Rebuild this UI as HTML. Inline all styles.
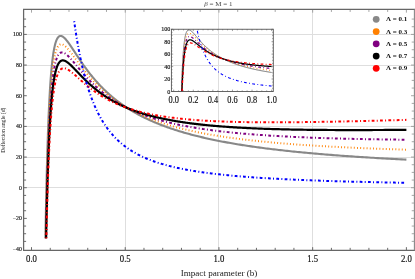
<!DOCTYPE html><html><head><meta charset="utf-8"><title>plot</title><style>html,body{margin:0;padding:0;background:#fff}svg{display:block}text{font-family:"Liberation Serif",serif}.tx{filter:grayscale(1)}</style></head><body>
<svg width="415" height="279" viewBox="0 0 415 279">
<rect width="415" height="279" fill="#fff"/>
<g stroke="#dedede" stroke-width="1" fill="none"><line x1="125.50" y1="9.45" x2="125.50" y2="250.35"/><line x1="218.50" y1="9.45" x2="218.50" y2="250.35"/><line x1="312.50" y1="9.45" x2="312.50" y2="250.35"/><line x1="23.60" y1="187.50" x2="414.20" y2="187.50"/><line x1="23.60" y1="157.50" x2="414.20" y2="157.50"/><line x1="23.60" y1="126.50" x2="414.20" y2="126.50"/><line x1="23.60" y1="65.50" x2="414.20" y2="65.50"/><line x1="23.60" y1="34.50" x2="414.20" y2="34.50"/></g>
<clipPath id="c1"><rect x="23.60" y="9.45" width="390.60" height="240.90"/></clipPath>
<g clip-path="url(#c1)" fill="none" stroke-linejoin="round">
<path d="M45.42,238.31 L45.51,232.93 L45.60,227.66 L45.70,222.51 L45.79,217.48 L45.89,212.55 L45.98,207.73 L46.08,203.02 L46.17,198.41 L46.27,193.90 L46.37,189.49 L46.47,185.18 L46.57,180.96 L46.67,176.84 L46.77,172.81 L46.87,168.87 L46.97,165.03 L47.07,161.26 L47.18,157.59 L47.28,153.99 L47.38,150.48 L47.49,147.05 L47.60,143.70 L47.70,140.43 L47.81,137.23 L47.92,134.10 L48.03,131.05 L48.14,128.07 L48.25,125.17 L48.36,122.33 L48.47,119.56 L48.58,116.85 L48.69,114.21 L48.81,111.63 L48.92,109.12 L49.04,106.67 L49.15,104.28 L49.27,101.95 L49.39,99.67 L49.51,97.45 L49.63,95.29 L49.75,93.19 L49.87,91.13 L49.99,89.13 L50.11,87.18 L50.23,85.29 L50.36,83.44 L50.48,81.64 L50.61,79.89 L50.73,78.19 L50.86,76.53 L50.99,74.92 L51.12,73.35 L51.25,71.83 L51.38,70.34 L51.51,68.91 L51.64,67.51 L51.78,66.15 L51.91,64.83 L52.05,63.55 L52.18,62.31 L52.32,61.11 L52.46,59.94 L52.60,58.81 L52.74,57.72 L52.88,56.65 L53.02,55.63 L53.16,54.63 L53.30,53.67 L53.45,52.75 L53.59,51.85 L53.74,50.98 L53.89,50.15 L54.04,49.34 L54.19,48.56 L54.34,47.82 L54.49,47.09 L54.64,46.40 L54.79,45.74 L54.95,45.10 L55.10,44.48 L55.26,43.90 L55.42,43.33 L55.57,42.79 L55.73,42.28 L55.89,41.79 L56.06,41.32 L56.22,40.88 L56.38,40.45 L56.55,40.05 L56.71,39.67 L56.88,39.31 L57.05,38.98 L57.22,38.66 L57.39,38.36 L57.56,38.08 L57.73,37.82 L57.90,37.58 L58.08,37.35 L58.25,37.15 L58.43,36.96 L58.61,36.79 L58.79,36.63 L58.97,36.50 L59.15,36.37 L59.34,36.27 L59.52,36.18 L59.71,36.10 L59.89,36.04 L60.08,36.00 L60.27,35.96 L60.46,35.95 L60.65,35.94 L60.84,35.95 L61.04,35.97 L61.23,36.01 L61.43,36.06 L61.63,36.12 L61.83,36.19 L62.03,36.27 L62.23,36.37 L62.44,36.47 L62.64,36.59 L62.85,36.72 L63.05,36.86 L63.26,37.01 L63.47,37.17 L63.69,37.33 L63.90,37.51 L64.11,37.70 L64.33,37.90 L64.55,38.11 L64.77,38.32 L64.99,38.54 L65.21,38.78 L65.43,39.02 L65.66,39.27 L65.88,39.52 L66.11,39.79 L66.34,40.06 L66.57,40.34 L66.80,40.62 L67.03,40.92 L67.27,41.22 L67.51,41.52 L67.75,41.83 L67.99,42.15 L68.23,42.48 L68.47,42.81 L68.71,43.15 L68.96,43.49 L69.21,43.84 L69.46,44.19 L69.71,44.55 L69.96,44.91 L70.22,45.28 L70.47,45.66 L70.73,46.04 L70.99,46.42 L71.25,46.81 L71.52,47.20 L71.78,47.60 L72.05,48.00 L72.32,48.40 L72.59,48.81 L72.86,49.22 L73.13,49.64 L73.41,50.06 L73.69,50.48 L73.97,50.90 L74.25,51.33 L74.53,51.76 L74.82,52.20 L75.10,52.64 L75.39,53.08 L75.68,53.52 L75.97,53.97 L76.27,54.42 L76.56,54.87 L76.86,55.32 L77.16,55.78 L77.47,56.23 L77.77,56.69 L78.08,57.16 L78.39,57.62 L78.70,58.09 L79.01,58.55 L79.32,59.02 L79.64,59.49 L79.96,59.97 L80.28,60.44 L80.60,60.91 L80.93,61.39 L81.25,61.87 L81.58,62.35 L81.92,62.83 L82.25,63.31 L82.59,63.79 L82.92,64.27 L83.26,64.76 L83.61,65.24 L83.95,65.73 L84.30,66.21 L84.65,66.70 L85.00,67.19 L85.36,67.67 L85.71,68.16 L86.07,68.65 L86.43,69.14 L86.80,69.63 L87.16,70.12 L87.53,70.61 L87.90,71.10 L88.28,71.59 L88.65,72.08 L89.03,72.57 L89.41,73.06 L89.79,73.55 L90.18,74.04 L90.57,74.53 L90.96,75.01 L91.35,75.50 L91.75,75.99 L92.15,76.48 L92.55,76.97 L92.95,77.46 L93.36,77.94 L93.77,78.43 L94.18,78.92 L94.60,79.40 L95.02,79.89 L95.44,80.37 L95.86,80.86 L96.29,81.34 L96.72,81.82 L97.15,82.31 L97.58,82.79 L98.02,83.27 L98.46,83.75 L98.90,84.23 L99.35,84.70 L99.80,85.18 L100.25,85.66 L100.71,86.13 L101.16,86.61 L101.63,87.08 L102.09,87.55 L102.56,88.02 L103.03,88.49 L103.50,88.96 L103.98,89.43 L104.46,89.90 L104.94,90.36 L105.43,90.83 L105.92,91.29 L106.41,91.75 L106.91,92.22 L107.41,92.68 L107.91,93.13 L108.41,93.59 L108.92,94.05 L109.44,94.50 L109.95,94.96 L110.47,95.41 L110.99,95.86 L111.52,96.31 L112.05,96.76 L112.58,97.20 L113.12,97.65 L113.66,98.09 L114.21,98.54 L114.75,98.98 L115.30,99.42 L115.86,99.85 L116.42,100.29 L116.98,100.73 L117.55,101.16 L118.12,101.59 L118.69,102.02 L119.27,102.45 L119.85,102.88 L120.43,103.31 L121.02,103.73 L121.62,104.15 L122.21,104.58 L122.81,105.00 L123.42,105.41 L124.03,105.83 L124.64,106.25 L125.26,106.66 L125.88,107.07 L126.50,107.48 L127.13,107.89 L127.76,108.30 L128.40,108.70 L129.04,109.11 L129.69,109.51 L130.34,109.91 L130.99,110.31 L131.65,110.71 L132.32,111.10 L132.98,111.50 L133.65,111.89 L134.33,112.28 L135.01,112.67 L135.70,113.06 L136.39,113.44 L137.08,113.83 L137.78,114.21 L138.48,114.59 L139.19,114.97 L139.91,115.35 L140.62,115.72 L141.35,116.10 L142.07,116.47 L142.81,116.84 L143.54,117.21 L144.29,117.58 L145.03,117.94 L145.78,118.30 L146.54,118.67 L147.30,119.03 L148.07,119.39 L148.84,119.74 L149.62,120.10 L150.40,120.45 L151.19,120.81 L151.98,121.16 L152.78,121.50 L153.58,121.85 L154.39,122.20 L155.20,122.54 L156.02,122.88 L156.85,123.22 L157.68,123.56 L158.51,123.90 L159.35,124.23 L160.20,124.57 L161.05,124.90 L161.91,125.23 L162.77,125.56 L163.64,125.89 L164.52,126.21 L165.40,126.54 L166.29,126.86 L167.18,127.18 L168.08,127.50 L168.98,127.81 L169.89,128.13 L170.81,128.44 L171.73,128.76 L172.66,129.07 L173.59,129.37 L174.53,129.68 L175.48,129.99 L176.43,130.29 L177.39,130.59 L178.36,130.90 L179.33,131.19 L180.31,131.49 L181.30,131.79 L182.29,132.08 L183.29,132.38 L184.29,132.67 L185.30,132.96 L186.32,133.24 L187.35,133.53 L188.38,133.82 L189.42,134.10 L190.46,134.38 L191.52,134.66 L192.58,134.94 L193.64,135.22 L194.72,135.49 L195.80,135.77 L196.89,136.04 L197.98,136.31 L199.08,136.58 L200.19,136.85 L201.31,137.11 L202.43,137.38 L203.57,137.64 L204.70,137.90 L205.85,138.17 L207.01,138.42 L208.17,138.68 L209.34,138.94 L210.52,139.19 L211.70,139.44 L212.89,139.70 L214.10,139.95 L215.30,140.20 L216.52,140.44 L217.75,140.69 L218.98,140.93 L220.22,141.18 L221.47,141.42 L222.73,141.66 L224.00,141.89 L225.27,142.13 L226.55,142.37 L227.84,142.60 L229.15,142.84 L230.45,143.07 L231.77,143.30 L233.10,143.53 L234.43,143.75 L235.78,143.98 L237.13,144.20 L238.49,144.43 L239.86,144.65 L241.24,144.87 L242.63,145.09 L244.03,145.31 L245.43,145.52 L246.85,145.74 L248.28,145.95 L249.71,146.16 L251.16,146.38 L252.61,146.59 L254.08,146.79 L255.55,147.00 L257.03,147.21 L258.53,147.41 L260.03,147.62 L261.54,147.82 L263.07,148.02 L264.60,148.22 L266.14,148.42 L267.70,148.61 L269.26,148.81 L270.84,149.00 L272.42,149.20 L274.02,149.39 L275.62,149.58 L277.24,149.77 L278.87,149.96 L280.50,150.15 L282.15,150.33 L283.81,150.52 L285.48,150.70 L287.16,150.88 L288.86,151.07 L290.56,151.25 L292.28,151.42 L294.00,151.60 L295.74,151.78 L297.49,151.95 L299.25,152.13 L301.03,152.30 L302.81,152.47 L304.61,152.64 L306.42,152.81 L308.24,152.98 L310.07,153.15 L311.91,153.32 L313.77,153.48 L315.64,153.65 L317.52,153.81 L319.41,153.97 L321.32,154.13 L323.24,154.29 L325.17,154.45 L327.12,154.61 L329.07,154.77 L331.04,154.92 L333.03,155.08 L335.02,155.23 L337.03,155.38 L339.06,155.53 L341.09,155.69 L343.14,155.83 L345.21,155.98 L347.29,156.13 L349.38,156.28 L351.48,156.42 L353.60,156.57 L355.73,156.71 L357.88,156.85 L360.04,156.99 L362.22,157.13 L364.41,157.27 L366.61,157.41 L368.83,157.55 L371.06,157.69 L373.31,157.82 L375.58,157.96 L377.85,158.09 L380.15,158.22 L382.46,158.35 L384.78,158.49 L387.12,158.62 L389.47,158.74 L391.84,158.87 L394.23,159.00 L396.63,159.13 L399.05,159.25 L401.48,159.38 L403.93,159.50 L406.40,159.62" stroke="#888888" stroke-width="2.10"/>
<path d="M45.64,238.32 L45.73,233.20 L45.82,228.20 L45.92,223.30 L46.01,218.51 L46.11,213.83 L46.20,209.24 L46.30,204.76 L46.40,200.37 L46.50,196.08 L46.60,191.89 L46.70,187.78 L46.80,183.77 L46.90,179.85 L47.00,176.01 L47.10,172.26 L47.20,168.59 L47.31,165.01 L47.41,161.50 L47.52,158.08 L47.62,154.73 L47.73,151.46 L47.83,148.26 L47.94,145.14 L48.05,142.09 L48.16,139.11 L48.27,136.19 L48.38,133.35 L48.49,130.57 L48.60,127.86 L48.72,125.21 L48.83,122.63 L48.94,120.10 L49.06,117.64 L49.17,115.24 L49.29,112.89 L49.41,110.60 L49.53,108.37 L49.64,106.20 L49.76,104.07 L49.88,102.00 L50.01,99.98 L50.13,98.02 L50.25,96.10 L50.37,94.23 L50.50,92.41 L50.62,90.64 L50.75,88.91 L50.88,87.23 L51.00,85.60 L51.13,84.00 L51.26,82.45 L51.39,80.95 L51.52,79.48 L51.66,78.06 L51.79,76.67 L51.92,75.32 L52.06,74.02 L52.19,72.75 L52.33,71.51 L52.47,70.31 L52.60,69.15 L52.74,68.03 L52.88,66.93 L53.02,65.87 L53.17,64.85 L53.31,63.85 L53.45,62.89 L53.60,61.96 L53.74,61.06 L53.89,60.19 L54.04,59.35 L54.19,58.53 L54.33,57.75 L54.49,56.99 L54.64,56.26 L54.79,55.56 L54.94,54.88 L55.10,54.23 L55.25,53.60 L55.41,53.00 L55.57,52.42 L55.73,51.87 L55.89,51.34 L56.05,50.83 L56.21,50.34 L56.37,49.88 L56.53,49.44 L56.70,49.02 L56.87,48.62 L57.03,48.24 L57.20,47.88 L57.37,47.54 L57.54,47.22 L57.71,46.91 L57.89,46.63 L58.06,46.36 L58.23,46.11 L58.41,45.88 L58.59,45.67 L58.77,45.47 L58.95,45.29 L59.13,45.12 L59.31,44.97 L59.49,44.83 L59.68,44.71 L59.86,44.61 L60.05,44.52 L60.24,44.44 L60.43,44.38 L60.62,44.33 L60.81,44.29 L61.00,44.27 L61.20,44.26 L61.39,44.26 L61.59,44.27 L61.79,44.30 L61.99,44.33 L62.19,44.38 L62.39,44.44 L62.59,44.51 L62.80,44.59 L63.01,44.68 L63.21,44.79 L63.42,44.90 L63.63,45.02 L63.84,45.15 L64.06,45.29 L64.27,45.44 L64.49,45.60 L64.71,45.77 L64.92,45.94 L65.14,46.13 L65.37,46.32 L65.59,46.52 L65.81,46.73 L66.04,46.95 L66.27,47.17 L66.50,47.40 L66.73,47.64 L66.96,47.88 L67.19,48.13 L67.43,48.39 L67.67,48.65 L67.90,48.92 L68.14,49.20 L68.39,49.48 L68.63,49.77 L68.87,50.07 L69.12,50.37 L69.37,50.67 L69.62,50.98 L69.87,51.30 L70.12,51.62 L70.38,51.94 L70.63,52.27 L70.89,52.60 L71.15,52.94 L71.41,53.29 L71.67,53.63 L71.94,53.98 L72.21,54.34 L72.47,54.70 L72.74,55.06 L73.02,55.43 L73.29,55.80 L73.56,56.17 L73.84,56.55 L74.12,56.93 L74.40,57.31 L74.68,57.69 L74.97,58.08 L75.26,58.47 L75.54,58.87 L75.83,59.26 L76.13,59.66 L76.42,60.07 L76.72,60.47 L77.01,60.88 L77.31,61.28 L77.62,61.69 L77.92,62.11 L78.23,62.52 L78.53,62.94 L78.84,63.36 L79.16,63.77 L79.47,64.20 L79.79,64.62 L80.10,65.04 L80.42,65.47 L80.75,65.90 L81.07,66.32 L81.40,66.75 L81.73,67.18 L82.06,67.61 L82.39,68.05 L82.73,68.48 L83.06,68.91 L83.40,69.35 L83.75,69.79 L84.09,70.22 L84.44,70.66 L84.79,71.10 L85.14,71.54 L85.49,71.97 L85.85,72.41 L86.20,72.85 L86.57,73.29 L86.93,73.73 L87.29,74.17 L87.66,74.61 L88.03,75.05 L88.40,75.49 L88.78,75.94 L89.16,76.38 L89.54,76.82 L89.92,77.26 L90.30,77.70 L90.69,78.14 L91.08,78.58 L91.47,79.02 L91.87,79.46 L92.27,79.90 L92.67,80.33 L93.07,80.77 L93.48,81.21 L93.89,81.65 L94.30,82.08 L94.71,82.52 L95.13,82.96 L95.55,83.39 L95.97,83.83 L96.39,84.26 L96.82,84.69 L97.25,85.13 L97.69,85.56 L98.12,85.99 L98.56,86.42 L99.00,86.85 L99.45,87.28 L99.89,87.70 L100.35,88.13 L100.80,88.56 L101.26,88.98 L101.72,89.40 L102.18,89.83 L102.64,90.25 L103.11,90.67 L103.59,91.09 L104.06,91.51 L104.54,91.92 L105.02,92.34 L105.50,92.75 L105.99,93.17 L106.48,93.58 L106.98,93.99 L107.47,94.40 L107.98,94.81 L108.48,95.22 L108.99,95.62 L109.50,96.03 L110.01,96.43 L110.53,96.84 L111.05,97.24 L111.57,97.64 L112.10,98.04 L112.63,98.43 L113.17,98.83 L113.71,99.22 L114.25,99.62 L114.79,100.01 L115.34,100.40 L115.89,100.78 L116.45,101.17 L117.01,101.56 L117.57,101.94 L118.14,102.32 L118.71,102.71 L119.29,103.08 L119.87,103.46 L120.45,103.84 L121.03,104.21 L121.62,104.59 L122.22,104.96 L122.82,105.33 L123.42,105.70 L124.02,106.07 L124.63,106.43 L125.25,106.80 L125.87,107.16 L126.49,107.52 L127.11,107.88 L127.74,108.24 L128.38,108.59 L129.02,108.95 L129.66,109.30 L130.31,109.65 L130.96,110.00 L131.61,110.35 L132.27,110.70 L132.94,111.04 L133.61,111.38 L134.28,111.72 L134.96,112.06 L135.64,112.40 L136.32,112.74 L137.01,113.07 L137.71,113.41 L138.41,113.74 L139.11,114.07 L139.82,114.40 L140.54,114.72 L141.26,115.05 L141.98,115.37 L142.71,115.69 L143.44,116.01 L144.18,116.33 L144.92,116.65 L145.67,116.96 L146.42,117.27 L147.18,117.59 L147.94,117.90 L148.71,118.20 L149.48,118.51 L150.26,118.81 L151.04,119.12 L151.83,119.42 L152.62,119.72 L153.42,120.02 L154.22,120.31 L155.03,120.61 L155.85,120.90 L156.67,121.19 L157.49,121.48 L158.32,121.77 L159.16,122.06 L160.00,122.34 L160.85,122.62 L161.70,122.91 L162.56,123.19 L163.42,123.46 L164.29,123.74 L165.16,124.02 L166.05,124.29 L166.93,124.56 L167.82,124.83 L168.72,125.10 L169.63,125.37 L170.54,125.63 L171.45,125.89 L172.38,126.16 L173.31,126.42 L174.24,126.67 L175.18,126.93 L176.13,127.19 L177.08,127.44 L178.04,127.69 L179.01,127.94 L179.98,128.19 L180.96,128.44 L181.94,128.69 L182.93,128.93 L183.93,129.17 L184.94,129.41 L185.95,129.65 L186.96,129.89 L187.99,130.13 L189.02,130.36 L190.06,130.60 L191.10,130.83 L192.16,131.06 L193.21,131.29 L194.28,131.51 L195.35,131.74 L196.43,131.96 L197.52,132.19 L198.61,132.41 L199.72,132.63 L200.82,132.84 L201.94,133.06 L203.06,133.28 L204.19,133.49 L205.33,133.70 L206.48,133.91 L207.63,134.12 L208.79,134.33 L209.96,134.54 L211.14,134.74 L212.32,134.94 L213.51,135.15 L214.71,135.35 L215.92,135.54 L217.13,135.74 L218.36,135.94 L219.59,136.13 L220.83,136.33 L222.08,136.52 L223.33,136.71 L224.60,136.90 L225.87,137.08 L227.15,137.27 L228.44,137.46 L229.74,137.64 L231.04,137.82 L232.36,138.00 L233.68,138.18 L235.02,138.36 L236.36,138.53 L237.71,138.71 L239.07,138.88 L240.43,139.06 L241.81,139.23 L243.20,139.40 L244.59,139.57 L246.00,139.73 L247.41,139.90 L248.83,140.06 L250.27,140.23 L251.71,140.39 L253.16,140.55 L254.62,140.71 L256.09,140.87 L257.57,141.02 L259.06,141.18 L260.56,141.33 L262.07,141.49 L263.59,141.64 L265.12,141.79 L266.66,141.94 L268.21,142.09 L269.77,142.23 L271.34,142.38 L272.92,142.52 L274.51,142.67 L276.11,142.81 L277.73,142.95 L279.35,143.09 L280.98,143.23 L282.63,143.36 L284.28,143.50 L285.95,143.63 L287.62,143.77 L289.31,143.90 L291.01,144.03 L292.72,144.16 L294.44,144.29 L296.18,144.42 L297.92,144.54 L299.68,144.67 L301.44,144.79 L303.22,144.92 L305.01,145.04 L306.82,145.16 L308.63,145.28 L310.46,145.40 L312.30,145.52 L314.15,145.63 L316.01,145.75 L317.88,145.86 L319.77,145.98 L321.67,146.09 L323.58,146.20 L325.51,146.31 L327.45,146.42 L329.40,146.53 L331.36,146.63 L333.34,146.74 L335.33,146.84 L337.33,146.95 L339.34,147.05 L341.37,147.15 L343.41,147.25 L345.47,147.35 L347.54,147.45 L349.62,147.55 L351.72,147.65 L353.83,147.74 L355.95,147.84 L358.09,147.93 L360.24,148.02 L362.41,148.12 L364.59,148.21 L366.79,148.30 L369.00,148.39 L371.22,148.47 L373.46,148.56 L375.71,148.65 L377.98,148.73 L380.27,148.82 L382.56,148.90 L384.88,148.98 L387.21,149.06 L389.55,149.14 L391.91,149.22 L394.29,149.30 L396.68,149.38 L399.08,149.46 L401.51,149.53 L403.95,149.61 L406.40,149.68" stroke="#ff8000" stroke-width="2.00" stroke-dasharray="0.9 2.3"/>
<path d="M45.87,238.31 L45.96,233.46 L46.05,228.72 L46.15,224.07 L46.25,219.53 L46.34,215.08 L46.44,210.73 L46.54,206.47 L46.64,202.30 L46.74,198.23 L46.84,194.24 L46.94,190.35 L47.04,186.53 L47.14,182.80 L47.24,179.16 L47.35,175.59 L47.45,172.10 L47.55,168.69 L47.66,165.36 L47.77,162.10 L47.87,158.91 L47.98,155.80 L48.09,152.75 L48.20,149.78 L48.31,146.87 L48.42,144.03 L48.53,141.26 L48.64,138.55 L48.75,135.90 L48.86,133.31 L48.98,130.79 L49.09,128.32 L49.21,125.91 L49.32,123.56 L49.44,121.27 L49.56,119.03 L49.68,116.84 L49.80,114.71 L49.92,112.63 L50.04,110.60 L50.16,108.62 L50.28,106.69 L50.40,104.80 L50.53,102.97 L50.65,101.18 L50.78,99.44 L50.91,97.74 L51.03,96.08 L51.16,94.47 L51.29,92.90 L51.42,91.37 L51.55,89.89 L51.68,88.44 L51.81,87.03 L51.95,85.66 L52.08,84.33 L52.22,83.03 L52.35,81.77 L52.49,80.55 L52.63,79.36 L52.76,78.21 L52.90,77.09 L53.04,76.00 L53.19,74.94 L53.33,73.92 L53.47,72.93 L53.62,71.96 L53.76,71.03 L53.91,70.13 L54.05,69.26 L54.20,68.41 L54.35,67.59 L54.50,66.80 L54.65,66.04 L54.80,65.30 L54.96,64.59 L55.11,63.90 L55.26,63.24 L55.42,62.60 L55.58,61.99 L55.73,61.40 L55.89,60.83 L56.05,60.29 L56.21,59.76 L56.38,59.26 L56.54,58.78 L56.70,58.32 L56.87,57.88 L57.04,57.46 L57.20,57.06 L57.37,56.68 L57.54,56.32 L57.71,55.98 L57.88,55.65 L58.06,55.35 L58.23,55.06 L58.41,54.78 L58.58,54.53 L58.76,54.29 L58.94,54.06 L59.12,53.86 L59.30,53.66 L59.48,53.48 L59.67,53.32 L59.85,53.17 L60.04,53.04 L60.22,52.92 L60.41,52.81 L60.60,52.72 L60.79,52.64 L60.99,52.57 L61.18,52.51 L61.37,52.47 L61.57,52.44 L61.77,52.42 L61.96,52.41 L62.16,52.42 L62.37,52.43 L62.57,52.46 L62.77,52.49 L62.98,52.54 L63.18,52.59 L63.39,52.66 L63.60,52.74 L63.81,52.82 L64.02,52.92 L64.24,53.02 L64.45,53.13 L64.67,53.25 L64.88,53.38 L65.10,53.52 L65.32,53.67 L65.55,53.82 L65.77,53.98 L65.99,54.15 L66.22,54.32 L66.45,54.51 L66.68,54.70 L66.91,54.90 L67.14,55.10 L67.37,55.31 L67.61,55.53 L67.85,55.75 L68.08,55.98 L68.32,56.21 L68.56,56.45 L68.81,56.70 L69.05,56.95 L69.30,57.21 L69.55,57.47 L69.80,57.74 L70.05,58.01 L70.30,58.28 L70.55,58.57 L70.81,58.85 L71.07,59.14 L71.33,59.44 L71.59,59.73 L71.85,60.04 L72.12,60.34 L72.38,60.65 L72.65,60.97 L72.92,61.29 L73.19,61.61 L73.47,61.93 L73.74,62.26 L74.02,62.59 L74.30,62.92 L74.58,63.26 L74.86,63.60 L75.14,63.94 L75.43,64.29 L75.72,64.64 L76.01,64.99 L76.30,65.34 L76.59,65.69 L76.89,66.05 L77.19,66.41 L77.49,66.77 L77.79,67.14 L78.09,67.50 L78.40,67.87 L78.71,68.24 L79.02,68.61 L79.33,68.98 L79.64,69.35 L79.96,69.73 L80.27,70.11 L80.59,70.48 L80.92,70.86 L81.24,71.24 L81.57,71.62 L81.90,72.01 L82.23,72.39 L82.56,72.78 L82.89,73.16 L83.23,73.55 L83.57,73.93 L83.91,74.32 L84.25,74.71 L84.60,75.10 L84.95,75.49 L85.30,75.88 L85.65,76.27 L86.01,76.66 L86.36,77.05 L86.72,77.44 L87.09,77.83 L87.45,78.22 L87.82,78.61 L88.19,79.01 L88.56,79.40 L88.93,79.79 L89.31,80.18 L89.69,80.57 L90.07,80.96 L90.46,81.36 L90.84,81.75 L91.23,82.14 L91.62,82.53 L92.02,82.92 L92.41,83.31 L92.81,83.70 L93.22,84.09 L93.62,84.48 L94.03,84.86 L94.44,85.25 L94.85,85.64 L95.27,86.03 L95.68,86.41 L96.10,86.80 L96.53,87.18 L96.95,87.56 L97.38,87.95 L97.82,88.33 L98.25,88.71 L98.69,89.09 L99.13,89.47 L99.57,89.85 L100.02,90.23 L100.47,90.61 L100.92,90.98 L101.38,91.36 L101.83,91.73 L102.30,92.10 L102.76,92.48 L103.23,92.85 L103.70,93.22 L104.17,93.59 L104.65,93.95 L105.13,94.32 L105.61,94.69 L106.10,95.05 L106.59,95.41 L107.08,95.78 L107.57,96.14 L108.07,96.50 L108.58,96.85 L109.08,97.21 L109.59,97.57 L110.10,97.92 L110.62,98.27 L111.14,98.63 L111.66,98.98 L112.18,99.32 L112.71,99.67 L113.25,100.02 L113.78,100.36 L114.32,100.71 L114.86,101.05 L115.41,101.39 L115.96,101.73 L116.52,102.07 L117.07,102.40 L117.63,102.74 L118.20,103.07 L118.77,103.40 L119.34,103.73 L119.92,104.06 L120.50,104.39 L121.08,104.71 L121.67,105.04 L122.26,105.36 L122.85,105.68 L123.45,106.00 L124.06,106.32 L124.66,106.64 L125.27,106.95 L125.89,107.26 L126.51,107.58 L127.13,107.89 L127.76,108.19 L128.39,108.50 L129.02,108.81 L129.66,109.11 L130.31,109.41 L130.96,109.71 L131.61,110.01 L132.26,110.31 L132.93,110.60 L133.59,110.90 L134.26,111.19 L134.93,111.48 L135.61,111.77 L136.29,112.06 L136.98,112.34 L137.67,112.63 L138.37,112.91 L139.07,113.19 L139.78,113.47 L140.49,113.75 L141.20,114.02 L141.92,114.30 L142.64,114.57 L143.37,114.84 L144.11,115.11 L144.85,115.38 L145.59,115.64 L146.34,115.91 L147.09,116.17 L147.85,116.43 L148.61,116.69 L149.38,116.95 L150.15,117.21 L150.93,117.46 L151.71,117.71 L152.50,117.96 L153.30,118.21 L154.09,118.46 L154.90,118.71 L155.71,118.95 L156.52,119.19 L157.34,119.43 L158.17,119.67 L159.00,119.91 L159.83,120.15 L160.68,120.38 L161.52,120.62 L162.38,120.85 L163.23,121.08 L164.10,121.30 L164.97,121.53 L165.84,121.76 L166.72,121.98 L167.61,122.20 L168.50,122.42 L169.40,122.64 L170.31,122.85 L171.22,123.07 L172.13,123.28 L173.06,123.50 L173.98,123.71 L174.92,123.91 L175.86,124.12 L176.81,124.33 L177.76,124.53 L178.72,124.73 L179.68,124.93 L180.65,125.13 L181.63,125.33 L182.62,125.53 L183.61,125.72 L184.61,125.91 L185.61,126.10 L186.62,126.29 L187.64,126.48 L188.66,126.67 L189.69,126.85 L190.73,127.04 L191.77,127.22 L192.83,127.40 L193.88,127.58 L194.95,127.76 L196.02,127.93 L197.10,128.11 L198.19,128.28 L199.28,128.45 L200.38,128.62 L201.49,128.79 L202.60,128.96 L203.72,129.12 L204.85,129.29 L205.99,129.45 L207.13,129.61 L208.29,129.77 L209.45,129.93 L210.61,130.09 L211.79,130.24 L212.97,130.40 L214.16,130.55 L215.36,130.70 L216.56,130.85 L217.78,131.00 L219.00,131.14 L220.23,131.29 L221.47,131.43 L222.71,131.58 L223.97,131.72 L225.23,131.86 L226.50,131.99 L227.78,132.13 L229.06,132.27 L230.36,132.40 L231.66,132.53 L232.98,132.67 L234.30,132.80 L235.63,132.92 L236.97,133.05 L238.31,133.18 L239.67,133.30 L241.04,133.43 L242.41,133.55 L243.79,133.67 L245.19,133.79 L246.59,133.91 L248.00,134.02 L249.42,134.14 L250.85,134.25 L252.28,134.37 L253.73,134.48 L255.19,134.59 L256.66,134.70 L258.13,134.81 L259.62,134.91 L261.12,135.02 L262.62,135.12 L264.14,135.23 L265.66,135.33 L267.20,135.43 L268.74,135.53 L270.30,135.63 L271.87,135.72 L273.44,135.82 L275.03,135.91 L276.63,136.01 L278.23,136.10 L279.85,136.19 L281.48,136.28 L283.12,136.37 L284.77,136.45 L286.43,136.54 L288.10,136.62 L289.79,136.71 L291.48,136.79 L293.18,136.87 L294.90,136.95 L296.63,137.03 L298.37,137.11 L300.12,137.19 L301.88,137.26 L303.65,137.34 L305.44,137.41 L307.23,137.48 L309.04,137.56 L310.86,137.63 L312.69,137.70 L314.54,137.76 L316.39,137.83 L318.26,137.90 L320.14,137.96 L322.04,138.03 L323.94,138.09 L325.86,138.15 L327.79,138.21 L329.73,138.27 L331.69,138.33 L333.66,138.39 L335.64,138.44 L337.63,138.50 L339.64,138.55 L341.66,138.61 L343.70,138.66 L345.74,138.71 L347.80,138.76 L349.88,138.81 L351.97,138.86 L354.07,138.91 L356.18,138.96 L358.31,139.00 L360.46,139.05 L362.61,139.09 L364.79,139.13 L366.97,139.17 L369.17,139.22 L371.39,139.26 L373.61,139.29 L375.86,139.33 L378.12,139.37 L380.39,139.41 L382.68,139.44 L384.98,139.48 L387.30,139.51 L389.63,139.54 L391.98,139.57 L394.35,139.60 L396.72,139.63 L399.12,139.66 L401.53,139.69 L403.96,139.72 L406.40,139.75" stroke="#800080" stroke-width="2.00" stroke-dasharray="1 2.28 2.78 2.28"/>
<path d="M46.11,238.32 L46.20,233.73 L46.30,229.23 L46.40,224.83 L46.49,220.53 L46.59,216.32 L46.69,212.19 L46.79,208.16 L46.89,204.21 L46.99,200.35 L47.09,196.57 L47.19,192.87 L47.30,189.26 L47.40,185.72 L47.50,182.26 L47.61,178.87 L47.71,175.56 L47.82,172.32 L47.92,169.16 L48.03,166.06 L48.14,163.03 L48.25,160.07 L48.36,157.18 L48.47,154.35 L48.58,151.59 L48.69,148.89 L48.80,146.25 L48.91,143.67 L49.03,141.15 L49.14,138.68 L49.26,136.28 L49.37,133.93 L49.49,131.64 L49.61,129.39 L49.72,127.21 L49.84,125.07 L49.96,122.99 L50.08,120.95 L50.20,118.96 L50.33,117.03 L50.45,115.14 L50.57,113.29 L50.70,111.49 L50.82,109.74 L50.95,108.03 L51.08,106.36 L51.20,104.73 L51.33,103.15 L51.46,101.61 L51.59,100.10 L51.72,98.64 L51.85,97.21 L51.99,95.82 L52.12,94.47 L52.26,93.15 L52.39,91.87 L52.53,90.63 L52.66,89.42 L52.80,88.24 L52.94,87.10 L53.08,85.98 L53.22,84.90 L53.36,83.86 L53.51,82.84 L53.65,81.85 L53.79,80.89 L53.94,79.96 L54.09,79.06 L54.23,78.18 L54.38,77.34 L54.53,76.52 L54.68,75.72 L54.83,74.95 L54.99,74.21 L55.14,73.49 L55.29,72.80 L55.45,72.13 L55.60,71.48 L55.76,70.86 L55.92,70.26 L56.08,69.68 L56.24,69.12 L56.40,68.58 L56.56,68.07 L56.73,67.57 L56.89,67.10 L57.06,66.64 L57.22,66.20 L57.39,65.79 L57.56,65.39 L57.73,65.01 L57.90,64.64 L58.07,64.30 L58.25,63.97 L58.42,63.66 L58.60,63.36 L58.77,63.08 L58.95,62.82 L59.13,62.57 L59.31,62.34 L59.49,62.12 L59.68,61.91 L59.86,61.72 L60.04,61.55 L60.23,61.39 L60.42,61.24 L60.61,61.10 L60.80,60.98 L60.99,60.87 L61.18,60.77 L61.37,60.69 L61.57,60.61 L61.77,60.55 L61.96,60.50 L62.16,60.46 L62.36,60.43 L62.56,60.41 L62.77,60.40 L62.97,60.40 L63.17,60.42 L63.38,60.44 L63.59,60.47 L63.80,60.51 L64.01,60.56 L64.22,60.62 L64.43,60.69 L64.65,60.76 L64.87,60.85 L65.08,60.94 L65.30,61.04 L65.52,61.15 L65.75,61.26 L65.97,61.38 L66.19,61.51 L66.42,61.65 L66.65,61.79 L66.88,61.95 L67.11,62.10 L67.34,62.27 L67.57,62.44 L67.81,62.61 L68.05,62.79 L68.28,62.98 L68.52,63.18 L68.77,63.37 L69.01,63.58 L69.25,63.79 L69.50,64.00 L69.75,64.22 L70.00,64.45 L70.25,64.68 L70.50,64.91 L70.76,65.15 L71.01,65.39 L71.27,65.64 L71.53,65.89 L71.79,66.14 L72.05,66.40 L72.32,66.67 L72.58,66.93 L72.85,67.20 L73.12,67.48 L73.39,67.75 L73.67,68.03 L73.94,68.31 L74.22,68.60 L74.50,68.89 L74.78,69.18 L75.06,69.48 L75.35,69.77 L75.63,70.07 L75.92,70.37 L76.21,70.68 L76.50,70.99 L76.79,71.29 L77.09,71.61 L77.39,71.92 L77.69,72.23 L77.99,72.55 L78.29,72.87 L78.60,73.19 L78.90,73.51 L79.21,73.84 L79.52,74.16 L79.84,74.49 L80.15,74.82 L80.47,75.15 L80.79,75.48 L81.11,75.81 L81.44,76.14 L81.76,76.48 L82.09,76.81 L82.42,77.15 L82.75,77.48 L83.09,77.82 L83.42,78.16 L83.76,78.50 L84.10,78.84 L84.44,79.18 L84.79,79.52 L85.14,79.86 L85.49,80.20 L85.84,80.54 L86.19,80.89 L86.55,81.23 L86.91,81.57 L87.27,81.91 L87.64,82.26 L88.00,82.60 L88.37,82.94 L88.74,83.29 L89.12,83.63 L89.49,83.97 L89.87,84.32 L90.25,84.66 L90.63,85.00 L91.02,85.34 L91.41,85.69 L91.80,86.03 L92.19,86.37 L92.59,86.71 L92.99,87.05 L93.39,87.39 L93.79,87.73 L94.20,88.07 L94.61,88.41 L95.02,88.75 L95.43,89.09 L95.85,89.42 L96.27,89.76 L96.69,90.09 L97.12,90.43 L97.55,90.76 L97.98,91.10 L98.41,91.43 L98.85,91.76 L99.29,92.09 L99.73,92.42 L100.17,92.75 L100.62,93.08 L101.07,93.41 L101.53,93.73 L101.98,94.06 L102.44,94.38 L102.91,94.70 L103.37,95.03 L103.84,95.35 L104.31,95.67 L104.79,95.98 L105.27,96.30 L105.75,96.62 L106.23,96.93 L106.72,97.25 L107.21,97.56 L107.70,97.87 L108.20,98.18 L108.70,98.49 L109.21,98.80 L109.71,99.11 L110.22,99.41 L110.74,99.71 L111.25,100.02 L111.77,100.32 L112.30,100.62 L112.82,100.92 L113.36,101.21 L113.89,101.51 L114.43,101.80 L114.97,102.10 L115.51,102.39 L116.06,102.68 L116.61,102.97 L117.17,103.25 L117.73,103.54 L118.29,103.82 L118.86,104.11 L119.43,104.39 L120.00,104.67 L120.58,104.95 L121.16,105.22 L121.74,105.50 L122.33,105.77 L122.92,106.04 L123.52,106.31 L124.12,106.58 L124.72,106.85 L125.33,107.12 L125.95,107.38 L126.56,107.64 L127.18,107.91 L127.81,108.16 L128.43,108.42 L129.07,108.68 L129.70,108.93 L130.34,109.19 L130.99,109.44 L131.64,109.69 L132.29,109.94 L132.95,110.18 L133.61,110.43 L134.28,110.67 L134.95,110.92 L135.62,111.16 L136.30,111.39 L136.99,111.63 L137.67,111.87 L138.37,112.10 L139.06,112.33 L139.77,112.56 L140.47,112.79 L141.18,113.02 L141.90,113.25 L142.62,113.47 L143.34,113.69 L144.07,113.91 L144.81,114.13 L145.55,114.35 L146.29,114.56 L147.04,114.78 L147.79,114.99 L148.55,115.20 L149.32,115.41 L150.08,115.62 L150.86,115.82 L151.64,116.03 L152.42,116.23 L153.21,116.43 L154.00,116.63 L154.80,116.83 L155.61,117.03 L156.42,117.22 L157.23,117.41 L158.05,117.60 L158.88,117.79 L159.71,117.98 L160.55,118.17 L161.39,118.35 L162.23,118.54 L163.09,118.72 L163.95,118.90 L164.81,119.07 L165.68,119.25 L166.56,119.43 L167.44,119.60 L168.32,119.77 L169.22,119.94 L170.11,120.11 L171.02,120.28 L171.93,120.44 L172.85,120.61 L173.77,120.77 L174.70,120.93 L175.63,121.09 L176.57,121.25 L177.52,121.40 L178.47,121.56 L179.43,121.71 L180.39,121.86 L181.37,122.01 L182.34,122.16 L183.33,122.30 L184.32,122.45 L185.31,122.59 L186.32,122.74 L187.33,122.88 L188.34,123.01 L189.37,123.15 L190.40,123.29 L191.43,123.42 L192.48,123.55 L193.53,123.69 L194.59,123.82 L195.65,123.94 L196.72,124.07 L197.80,124.20 L198.88,124.32 L199.98,124.44 L201.07,124.56 L202.18,124.68 L203.29,124.80 L204.42,124.92 L205.54,125.03 L206.68,125.15 L207.82,125.26 L208.97,125.37 L210.13,125.48 L211.30,125.59 L212.47,125.69 L213.65,125.80 L214.84,125.90 L216.03,126.00 L217.24,126.10 L218.45,126.20 L219.67,126.30 L220.90,126.40 L222.13,126.49 L223.38,126.59 L224.63,126.68 L225.89,126.77 L227.16,126.86 L228.43,126.95 L229.72,127.03 L231.01,127.12 L232.31,127.20 L233.62,127.29 L234.94,127.37 L236.27,127.45 L237.60,127.53 L238.95,127.60 L240.30,127.68 L241.66,127.76 L243.04,127.83 L244.42,127.90 L245.81,127.97 L247.20,128.04 L248.61,128.11 L250.03,128.18 L251.45,128.24 L252.89,128.31 L254.33,128.37 L255.79,128.43 L257.25,128.49 L258.72,128.55 L260.20,128.61 L261.70,128.67 L263.20,128.73 L264.71,128.78 L266.23,128.83 L267.76,128.89 L269.30,128.94 L270.86,128.99 L272.42,129.04 L273.99,129.08 L275.57,129.13 L277.16,129.17 L278.77,129.22 L280.38,129.26 L282.00,129.30 L283.64,129.34 L285.28,129.38 L286.94,129.42 L288.61,129.46 L290.28,129.49 L291.97,129.53 L293.67,129.56 L295.38,129.59 L297.10,129.62 L298.84,129.65 L300.58,129.68 L302.33,129.71 L304.10,129.74 L305.88,129.76 L307.67,129.79 L309.47,129.81 L311.29,129.83 L313.11,129.85 L314.95,129.88 L316.80,129.89 L318.66,129.91 L320.53,129.93 L322.42,129.95 L324.32,129.96 L326.23,129.97 L328.15,129.99 L330.08,130.00 L332.03,130.01 L333.99,130.02 L335.97,130.03 L337.95,130.04 L339.95,130.04 L341.97,130.05 L343.99,130.05 L346.03,130.06 L348.08,130.06 L350.15,130.06 L352.23,130.06 L354.32,130.06 L356.42,130.06 L358.54,130.06 L360.68,130.06 L362.83,130.05 L364.99,130.05 L367.16,130.04 L369.35,130.04 L371.56,130.03 L373.78,130.02 L376.01,130.01 L378.26,130.00 L380.52,129.99 L382.80,129.98 L385.09,129.96 L387.39,129.95 L389.72,129.94 L392.05,129.92 L394.41,129.90 L396.77,129.89 L399.16,129.87 L401.56,129.85 L403.97,129.83 L406.40,129.81" stroke="#000000" stroke-width="2.20"/>
<path d="M46.37,238.32 L46.47,233.98 L46.56,229.73 L46.66,225.58 L46.76,221.51 L46.86,217.53 L46.96,213.63 L47.06,209.82 L47.16,206.08 L47.26,202.43 L47.36,198.85 L47.46,195.35 L47.57,191.93 L47.67,188.58 L47.78,185.30 L47.88,182.10 L47.99,178.96 L48.10,175.89 L48.20,172.89 L48.31,169.96 L48.42,167.09 L48.53,164.28 L48.64,161.53 L48.75,158.85 L48.87,156.23 L48.98,153.66 L49.09,151.15 L49.21,148.70 L49.32,146.31 L49.44,143.97 L49.55,141.68 L49.67,139.45 L49.79,137.27 L49.91,135.13 L50.03,133.05 L50.15,131.02 L50.27,129.03 L50.39,127.09 L50.51,125.20 L50.63,123.35 L50.76,121.55 L50.88,119.79 L51.01,118.07 L51.14,116.40 L51.26,114.76 L51.39,113.17 L51.52,111.62 L51.65,110.10 L51.78,108.63 L51.91,107.19 L52.05,105.79 L52.18,104.42 L52.31,103.09 L52.45,101.79 L52.58,100.53 L52.72,99.30 L52.86,98.11 L53.00,96.94 L53.14,95.81 L53.28,94.71 L53.42,93.64 L53.56,92.60 L53.70,91.59 L53.85,90.61 L53.99,89.65 L54.14,88.73 L54.29,87.83 L54.43,86.95 L54.58,86.11 L54.73,85.29 L54.88,84.49 L55.03,83.72 L55.19,82.98 L55.34,82.25 L55.50,81.55 L55.65,80.88 L55.81,80.22 L55.97,79.59 L56.12,78.98 L56.28,78.39 L56.44,77.82 L56.61,77.27 L56.77,76.75 L56.93,76.24 L57.10,75.75 L57.26,75.28 L57.43,74.83 L57.60,74.39 L57.77,73.98 L57.94,73.58 L58.11,73.19 L58.28,72.83 L58.46,72.48 L58.63,72.15 L58.81,71.83 L58.99,71.53 L59.16,71.24 L59.34,70.97 L59.52,70.72 L59.71,70.47 L59.89,70.25 L60.07,70.03 L60.26,69.83 L60.45,69.64 L60.63,69.47 L60.82,69.30 L61.01,69.15 L61.20,69.01 L61.40,68.89 L61.59,68.77 L61.79,68.67 L61.98,68.58 L62.18,68.49 L62.38,68.42 L62.58,68.36 L62.78,68.31 L62.98,68.27 L63.19,68.24 L63.39,68.22 L63.60,68.21 L63.81,68.20 L64.02,68.21 L64.23,68.23 L64.44,68.25 L64.66,68.28 L64.87,68.32 L65.09,68.37 L65.31,68.42 L65.53,68.49 L65.75,68.56 L65.97,68.64 L66.19,68.72 L66.42,68.81 L66.64,68.91 L66.87,69.02 L67.10,69.13 L67.33,69.25 L67.57,69.37 L67.80,69.50 L68.03,69.64 L68.27,69.78 L68.51,69.93 L68.75,70.08 L68.99,70.24 L69.24,70.40 L69.48,70.57 L69.73,70.75 L69.97,70.93 L70.22,71.11 L70.48,71.30 L70.73,71.49 L70.98,71.68 L71.24,71.88 L71.50,72.09 L71.76,72.30 L72.02,72.51 L72.28,72.72 L72.55,72.94 L72.81,73.16 L73.08,73.39 L73.35,73.62 L73.62,73.85 L73.89,74.09 L74.17,74.33 L74.45,74.57 L74.73,74.81 L75.01,75.06 L75.29,75.31 L75.57,75.56 L75.86,75.82 L76.15,76.07 L76.44,76.33 L76.73,76.59 L77.02,76.86 L77.32,77.12 L77.61,77.39 L77.91,77.66 L78.21,77.93 L78.52,78.20 L78.82,78.48 L79.13,78.75 L79.44,79.03 L79.75,79.31 L80.06,79.59 L80.38,79.87 L80.69,80.15 L81.01,80.44 L81.34,80.72 L81.66,81.01 L81.98,81.30 L82.31,81.58 L82.64,81.87 L82.97,82.16 L83.31,82.45 L83.64,82.74 L83.98,83.03 L84.32,83.33 L84.66,83.62 L85.01,83.91 L85.36,84.21 L85.71,84.50 L86.06,84.79 L86.41,85.09 L86.77,85.38 L87.13,85.68 L87.49,85.97 L87.85,86.27 L88.22,86.56 L88.58,86.86 L88.96,87.15 L89.33,87.45 L89.70,87.74 L90.08,88.04 L90.46,88.33 L90.84,88.63 L91.23,88.92 L91.62,89.22 L92.01,89.51 L92.40,89.80 L92.79,90.10 L93.19,90.39 L93.59,90.68 L94.00,90.97 L94.40,91.26 L94.81,91.55 L95.22,91.84 L95.63,92.13 L96.05,92.42 L96.47,92.71 L96.89,92.99 L97.31,93.28 L97.74,93.56 L98.17,93.85 L98.60,94.13 L99.04,94.42 L99.48,94.70 L99.92,94.98 L100.36,95.26 L100.81,95.54 L101.26,95.82 L101.71,96.09 L102.17,96.37 L102.63,96.65 L103.09,96.92 L103.55,97.19 L104.02,97.47 L104.49,97.74 L104.96,98.01 L105.44,98.27 L105.92,98.54 L106.40,98.81 L106.89,99.07 L107.38,99.34 L107.87,99.60 L108.37,99.86 L108.86,100.12 L109.37,100.38 L109.87,100.64 L110.38,100.90 L110.89,101.15 L111.41,101.40 L111.93,101.66 L112.45,101.91 L112.97,102.16 L113.50,102.41 L114.03,102.65 L114.57,102.90 L115.11,103.14 L115.65,103.39 L116.20,103.63 L116.75,103.87 L117.30,104.11 L117.86,104.34 L118.42,104.58 L118.98,104.81 L119.55,105.04 L120.12,105.28 L120.69,105.51 L121.27,105.73 L121.86,105.96 L122.44,106.18 L123.03,106.41 L123.63,106.63 L124.22,106.85 L124.83,107.07 L125.43,107.29 L126.04,107.50 L126.65,107.72 L127.27,107.93 L127.89,108.14 L128.52,108.35 L129.15,108.56 L129.78,108.76 L130.42,108.97 L131.06,109.17 L131.71,109.37 L132.36,109.57 L133.01,109.77 L133.67,109.97 L134.33,110.16 L135.00,110.36 L135.67,110.55 L136.35,110.74 L137.03,110.93 L137.71,111.12 L138.40,111.30 L139.10,111.49 L139.79,111.67 L140.50,111.85 L141.20,112.03 L141.92,112.21 L142.63,112.38 L143.35,112.56 L144.08,112.73 L144.81,112.90 L145.54,113.07 L146.28,113.24 L147.03,113.40 L147.78,113.57 L148.53,113.73 L149.29,113.89 L150.06,114.05 L150.83,114.21 L151.60,114.36 L152.38,114.52 L153.16,114.67 L153.95,114.82 L154.75,114.97 L155.55,115.12 L156.35,115.27 L157.16,115.41 L157.98,115.55 L158.80,115.70 L159.63,115.84 L160.46,115.97 L161.29,116.11 L162.14,116.25 L162.98,116.38 L163.84,116.51 L164.70,116.64 L165.56,116.77 L166.43,116.90 L167.31,117.02 L168.19,117.15 L169.07,117.27 L169.97,117.39 L170.86,117.51 L171.77,117.63 L172.68,117.75 L173.59,117.86 L174.52,117.97 L175.44,118.08 L176.38,118.19 L177.32,118.30 L178.27,118.41 L179.22,118.51 L180.18,118.62 L181.14,118.72 L182.11,118.82 L183.09,118.92 L184.07,119.02 L185.06,119.11 L186.06,119.21 L187.06,119.30 L188.07,119.39 L189.09,119.48 L190.11,119.57 L191.14,119.66 L192.17,119.74 L193.22,119.83 L194.27,119.91 L195.32,119.99 L196.39,120.07 L197.46,120.15 L198.53,120.23 L199.62,120.30 L200.71,120.37 L201.81,120.45 L202.91,120.52 L204.02,120.59 L205.14,120.65 L206.27,120.72 L207.40,120.79 L208.54,120.85 L209.69,120.91 L210.85,120.97 L212.01,121.03 L213.18,121.09 L214.36,121.15 L215.55,121.20 L216.74,121.25 L217.95,121.31 L219.16,121.36 L220.37,121.41 L221.60,121.45 L222.83,121.50 L224.07,121.55 L225.32,121.59 L226.58,121.63 L227.85,121.68 L229.12,121.72 L230.40,121.75 L231.69,121.79 L232.99,121.83 L234.30,121.86 L235.62,121.89 L236.94,121.93 L238.27,121.96 L239.62,121.99 L240.97,122.02 L242.33,122.04 L243.69,122.07 L245.07,122.09 L246.46,122.11 L247.85,122.14 L249.25,122.16 L250.67,122.18 L252.09,122.19 L253.52,122.21 L254.96,122.23 L256.41,122.24 L257.87,122.25 L259.34,122.26 L260.82,122.27 L262.31,122.28 L263.80,122.29 L265.31,122.30 L266.83,122.30 L268.36,122.31 L269.89,122.31 L271.44,122.31 L273.00,122.31 L274.56,122.31 L276.14,122.31 L277.73,122.31 L279.32,122.31 L280.93,122.30 L282.55,122.29 L284.18,122.29 L285.82,122.28 L287.47,122.27 L289.13,122.26 L290.80,122.25 L292.49,122.23 L294.18,122.22 L295.88,122.20 L297.60,122.19 L299.33,122.17 L301.06,122.15 L302.81,122.13 L304.57,122.11 L306.34,122.09 L308.13,122.07 L309.92,122.04 L311.73,122.02 L313.55,121.99 L315.38,121.96 L317.22,121.94 L319.07,121.91 L320.94,121.88 L322.82,121.85 L324.71,121.81 L326.61,121.78 L328.53,121.75 L330.45,121.71 L332.39,121.67 L334.35,121.64 L336.31,121.60 L338.29,121.56 L340.28,121.52 L342.28,121.48 L344.30,121.43 L346.33,121.39 L348.37,121.35 L350.43,121.30 L352.50,121.26 L354.58,121.21 L356.68,121.16 L358.79,121.11 L360.91,121.06 L363.05,121.01 L365.20,120.96 L367.36,120.90 L369.54,120.85 L371.74,120.80 L373.94,120.74 L376.17,120.68 L378.40,120.63 L380.65,120.57 L382.92,120.51 L385.20,120.45 L387.50,120.39 L389.81,120.33 L392.13,120.26 L394.47,120.20 L396.83,120.14 L399.20,120.07 L401.58,120.00 L403.98,119.94 L406.40,119.87" stroke="#ff0000" stroke-width="2.00" stroke-dasharray="1 2.28 2.78 2.28"/>
<path d="M74.16,21.25 L74.40,22.91 L74.63,24.55 L74.87,26.17 L75.10,27.78 L75.34,29.36 L75.58,30.94 L75.82,32.50 L76.06,34.04 L76.31,35.56 L76.55,37.07 L76.80,38.56 L77.05,40.04 L77.29,41.51 L77.54,42.95 L77.80,44.39 L78.05,45.80 L78.30,47.21 L78.56,48.60 L78.82,49.97 L79.07,51.33 L79.33,52.68 L79.60,54.01 L79.86,55.33 L80.12,56.64 L80.39,57.93 L80.65,59.21 L80.92,60.47 L81.19,61.72 L81.46,62.96 L81.74,64.19 L82.01,65.40 L82.29,66.61 L82.56,67.80 L82.84,68.97 L83.12,70.14 L83.41,71.29 L83.69,72.43 L83.97,73.56 L84.26,74.68 L84.55,75.79 L84.84,76.88 L85.13,77.96 L85.42,79.04 L85.72,80.10 L86.01,81.15 L86.31,82.19 L86.61,83.22 L86.91,84.24 L87.21,85.25 L87.52,86.25 L87.82,87.23 L88.13,88.21 L88.44,89.18 L88.75,90.14 L89.07,91.09 L89.38,92.02 L89.70,92.95 L90.01,93.87 L90.33,94.78 L90.65,95.68 L90.98,96.58 L91.30,97.46 L91.63,98.33 L91.96,99.20 L92.29,100.05 L92.62,100.90 L92.95,101.74 L93.29,102.57 L93.63,103.39 L93.97,104.20 L94.31,105.01 L94.65,105.80 L95.00,106.59 L95.34,107.37 L95.69,108.15 L96.04,108.91 L96.39,109.67 L96.75,110.42 L97.10,111.16 L97.46,111.89 L97.82,112.62 L98.19,113.34 L98.55,114.05 L98.92,114.76 L99.28,115.46 L99.65,116.15 L100.03,116.83 L100.40,117.51 L100.78,118.18 L101.16,118.84 L101.54,119.50 L101.92,120.15 L102.30,120.79 L102.69,121.43 L103.08,122.06 L103.47,122.68 L103.86,123.30 L104.26,123.91 L104.66,124.52 L105.06,125.12 L105.46,125.71 L105.86,126.30 L106.27,126.88 L106.68,127.46 L107.09,128.03 L107.50,128.59 L107.91,129.15 L108.33,129.70 L108.75,130.25 L109.17,130.79 L109.60,131.33 L110.02,131.86 L110.45,132.38 L110.88,132.90 L111.32,133.42 L111.75,133.93 L112.19,134.43 L112.63,134.93 L113.08,135.43 L113.52,135.92 L113.97,136.40 L114.42,136.89 L114.87,137.36 L115.33,137.83 L115.79,138.30 L116.25,138.76 L116.71,139.22 L117.17,139.67 L117.64,140.12 L118.11,140.56 L118.59,141.00 L119.06,141.43 L119.54,141.86 L120.02,142.29 L120.50,142.71 L120.99,143.13 L121.48,143.54 L121.97,143.95 L122.46,144.36 L122.96,144.76 L123.46,145.15 L123.96,145.55 L124.47,145.94 L124.98,146.32 L125.49,146.70 L126.00,147.08 L126.52,147.46 L127.03,147.83 L127.56,148.19 L128.08,148.56 L128.61,148.92 L129.14,149.27 L129.67,149.63 L130.21,149.97 L130.75,150.32 L131.29,150.66 L131.83,151.00 L132.38,151.34 L132.93,151.67 L133.49,152.00 L134.04,152.32 L134.60,152.65 L135.17,152.97 L135.73,153.28 L136.30,153.60 L136.88,153.91 L137.45,154.21 L138.03,154.52 L138.61,154.82 L139.20,155.12 L139.78,155.41 L140.38,155.70 L140.97,155.99 L141.57,156.28 L142.17,156.56 L142.77,156.85 L143.38,157.12 L143.99,157.40 L144.61,157.67 L145.23,157.94 L145.85,158.21 L146.47,158.48 L147.10,158.74 L147.73,159.00 L148.37,159.26 L149.00,159.51 L149.65,159.76 L150.29,160.01 L150.94,160.26 L151.59,160.51 L152.25,160.75 L152.91,160.99 L153.57,161.23 L154.24,161.46 L154.91,161.70 L155.58,161.93 L156.26,162.16 L156.94,162.39 L157.63,162.61 L158.31,162.83 L159.01,163.05 L159.70,163.27 L160.40,163.49 L161.11,163.70 L161.82,163.91 L162.53,164.12 L163.24,164.33 L163.96,164.54 L164.69,164.74 L165.41,164.94 L166.15,165.14 L166.88,165.34 L167.62,165.54 L168.36,165.73 L169.11,165.93 L169.86,166.12 L170.62,166.31 L171.38,166.49 L172.14,166.68 L172.91,166.86 L173.68,167.04 L174.46,167.22 L175.24,167.40 L176.02,167.58 L176.81,167.75 L177.61,167.93 L178.41,168.10 L179.21,168.27 L180.02,168.44 L180.83,168.60 L181.64,168.77 L182.46,168.93 L183.29,169.10 L184.12,169.26 L184.95,169.42 L185.79,169.57 L186.63,169.73 L187.48,169.88 L188.33,170.04 L189.19,170.19 L190.05,170.34 L190.91,170.49 L191.78,170.64 L192.66,170.78 L193.54,170.93 L194.42,171.07 L195.31,171.21 L196.21,171.35 L197.11,171.49 L198.01,171.63 L198.92,171.77 L199.84,171.90 L200.76,172.04 L201.68,172.17 L202.61,172.30 L203.54,172.43 L204.48,172.56 L205.43,172.69 L206.38,172.82 L207.33,172.94 L208.29,173.07 L209.26,173.19 L210.23,173.31 L211.21,173.43 L212.19,173.55 L213.18,173.67 L214.17,173.79 L215.17,173.91 L216.17,174.02 L217.18,174.14 L218.19,174.25 L219.21,174.36 L220.24,174.48 L221.27,174.59 L222.30,174.70 L223.35,174.80 L224.39,174.91 L225.45,175.02 L226.51,175.12 L227.57,175.23 L228.64,175.33 L229.72,175.43 L230.80,175.54 L231.89,175.64 L232.98,175.74 L234.09,175.83 L235.19,175.93 L236.30,176.03 L237.42,176.13 L238.55,176.22 L239.68,176.32 L240.82,176.41 L241.96,176.50 L243.11,176.59 L244.26,176.68 L245.43,176.78 L246.59,176.86 L247.77,176.95 L248.95,177.04 L250.14,177.13 L251.33,177.21 L252.53,177.30 L253.74,177.38 L254.95,177.47 L256.17,177.55 L257.40,177.63 L258.64,177.72 L259.88,177.80 L261.12,177.88 L262.38,177.96 L263.64,178.03 L264.91,178.11 L266.18,178.19 L267.46,178.27 L268.75,178.34 L270.05,178.42 L271.35,178.49 L272.66,178.57 L273.98,178.64 L275.30,178.71 L276.63,178.78 L277.97,178.86 L279.32,178.93 L280.67,179.00 L282.03,179.07 L283.40,179.13 L284.78,179.20 L286.16,179.27 L287.55,179.34 L288.95,179.40 L290.36,179.47 L291.77,179.54 L293.19,179.60 L294.62,179.66 L296.06,179.73 L297.50,179.79 L298.96,179.85 L300.42,179.92 L301.88,179.98 L303.36,180.04 L304.85,180.10 L306.34,180.16 L307.84,180.22 L309.35,180.28 L310.87,180.33 L312.39,180.39 L313.93,180.45 L315.47,180.50 L317.02,180.56 L318.58,180.62 L320.15,180.67 L321.72,180.73 L323.31,180.78 L324.90,180.83 L326.51,180.89 L328.12,180.94 L329.74,180.99 L331.37,181.05 L333.00,181.10 L334.65,181.15 L336.31,181.20 L337.97,181.25 L339.65,181.30 L341.33,181.35 L343.02,181.40 L344.72,181.45 L346.43,181.49 L348.15,181.54 L349.88,181.59 L351.62,181.63 L353.37,181.68 L355.13,181.73 L356.90,181.77 L358.67,181.82 L360.46,181.86 L362.26,181.91 L364.06,181.95 L365.88,182.00 L367.71,182.04 L369.54,182.08 L371.39,182.12 L373.24,182.17 L375.11,182.21 L376.99,182.25 L378.87,182.29 L380.77,182.33 L382.68,182.37 L384.60,182.41 L386.53,182.45 L388.46,182.49 L390.41,182.53 L392.37,182.57 L394.35,182.61 L396.33,182.65 L398.32,182.68 L400.32,182.72 L402.34,182.76 L404.36,182.80 L406.40,182.83" stroke="#0000ff" stroke-width="2" stroke-dasharray="1 2.28 2.78 2.28"/>
</g>
<g stroke="#5a5a5a" stroke-width="0.9"><line x1="31.50" y1="250.35" x2="31.50" y2="247.15"/><line x1="50.25" y1="250.35" x2="50.25" y2="247.85"/><line x1="68.99" y1="250.35" x2="68.99" y2="247.85"/><line x1="87.74" y1="250.35" x2="87.74" y2="247.85"/><line x1="106.48" y1="250.35" x2="106.48" y2="247.85"/><line x1="125.22" y1="250.35" x2="125.22" y2="247.15"/><line x1="143.97" y1="250.35" x2="143.97" y2="247.85"/><line x1="162.72" y1="250.35" x2="162.72" y2="247.85"/><line x1="181.46" y1="250.35" x2="181.46" y2="247.85"/><line x1="200.20" y1="250.35" x2="200.20" y2="247.85"/><line x1="218.95" y1="250.35" x2="218.95" y2="247.15"/><line x1="237.69" y1="250.35" x2="237.69" y2="247.85"/><line x1="256.44" y1="250.35" x2="256.44" y2="247.85"/><line x1="275.19" y1="250.35" x2="275.19" y2="247.85"/><line x1="293.93" y1="250.35" x2="293.93" y2="247.85"/><line x1="312.67" y1="250.35" x2="312.67" y2="247.15"/><line x1="331.42" y1="250.35" x2="331.42" y2="247.85"/><line x1="350.17" y1="250.35" x2="350.17" y2="247.85"/><line x1="368.91" y1="250.35" x2="368.91" y2="247.85"/><line x1="387.66" y1="250.35" x2="387.66" y2="247.85"/><line x1="406.40" y1="250.35" x2="406.40" y2="247.15"/><line x1="23.60" y1="241.38" x2="26.10" y2="241.38"/><line x1="23.60" y1="233.72" x2="26.10" y2="233.72"/><line x1="23.60" y1="226.05" x2="26.10" y2="226.05"/><line x1="23.60" y1="218.38" x2="26.80" y2="218.38"/><line x1="23.60" y1="210.72" x2="26.10" y2="210.72"/><line x1="23.60" y1="203.05" x2="26.10" y2="203.05"/><line x1="23.60" y1="195.39" x2="26.10" y2="195.39"/><line x1="23.60" y1="187.72" x2="26.80" y2="187.72"/><line x1="23.60" y1="180.05" x2="26.10" y2="180.05"/><line x1="23.60" y1="172.39" x2="26.10" y2="172.39"/><line x1="23.60" y1="164.72" x2="26.10" y2="164.72"/><line x1="23.60" y1="157.06" x2="26.80" y2="157.06"/><line x1="23.60" y1="149.39" x2="26.10" y2="149.39"/><line x1="23.60" y1="141.72" x2="26.10" y2="141.72"/><line x1="23.60" y1="134.06" x2="26.10" y2="134.06"/><line x1="23.60" y1="126.39" x2="26.80" y2="126.39"/><line x1="23.60" y1="118.73" x2="26.10" y2="118.73"/><line x1="23.60" y1="111.06" x2="26.10" y2="111.06"/><line x1="23.60" y1="103.39" x2="26.10" y2="103.39"/><line x1="23.60" y1="95.73" x2="26.80" y2="95.73"/><line x1="23.60" y1="88.06" x2="26.10" y2="88.06"/><line x1="23.60" y1="80.40" x2="26.10" y2="80.40"/><line x1="23.60" y1="72.73" x2="26.10" y2="72.73"/><line x1="23.60" y1="65.06" x2="26.80" y2="65.06"/><line x1="23.60" y1="57.40" x2="26.10" y2="57.40"/><line x1="23.60" y1="49.73" x2="26.10" y2="49.73"/><line x1="23.60" y1="42.07" x2="26.10" y2="42.07"/><line x1="23.60" y1="34.40" x2="26.80" y2="34.40"/><line x1="23.60" y1="26.73" x2="26.10" y2="26.73"/><line x1="23.60" y1="19.07" x2="26.10" y2="19.07"/></g>
<g stroke="#909090" stroke-width="0.8"><line x1="31.50" y1="9.45" x2="31.50" y2="12.65"/><line x1="50.25" y1="9.45" x2="50.25" y2="11.95"/><line x1="68.99" y1="9.45" x2="68.99" y2="11.95"/><line x1="87.74" y1="9.45" x2="87.74" y2="11.95"/><line x1="106.48" y1="9.45" x2="106.48" y2="11.95"/><line x1="125.22" y1="9.45" x2="125.22" y2="12.65"/><line x1="143.97" y1="9.45" x2="143.97" y2="11.95"/><line x1="162.72" y1="9.45" x2="162.72" y2="11.95"/><line x1="181.46" y1="9.45" x2="181.46" y2="11.95"/><line x1="200.20" y1="9.45" x2="200.20" y2="11.95"/><line x1="218.95" y1="9.45" x2="218.95" y2="12.65"/><line x1="237.69" y1="9.45" x2="237.69" y2="11.95"/><line x1="256.44" y1="9.45" x2="256.44" y2="11.95"/><line x1="275.19" y1="9.45" x2="275.19" y2="11.95"/><line x1="293.93" y1="9.45" x2="293.93" y2="11.95"/><line x1="312.67" y1="9.45" x2="312.67" y2="12.65"/><line x1="331.42" y1="9.45" x2="331.42" y2="11.95"/><line x1="350.17" y1="9.45" x2="350.17" y2="11.95"/><line x1="368.91" y1="9.45" x2="368.91" y2="11.95"/><line x1="387.66" y1="9.45" x2="387.66" y2="11.95"/><line x1="406.40" y1="9.45" x2="406.40" y2="12.65"/><line x1="414.20" y1="241.38" x2="411.70" y2="241.38"/><line x1="414.20" y1="233.72" x2="411.70" y2="233.72"/><line x1="414.20" y1="226.05" x2="411.70" y2="226.05"/><line x1="414.20" y1="218.38" x2="411.00" y2="218.38"/><line x1="414.20" y1="210.72" x2="411.70" y2="210.72"/><line x1="414.20" y1="203.05" x2="411.70" y2="203.05"/><line x1="414.20" y1="195.39" x2="411.70" y2="195.39"/><line x1="414.20" y1="187.72" x2="411.00" y2="187.72"/><line x1="414.20" y1="180.05" x2="411.70" y2="180.05"/><line x1="414.20" y1="172.39" x2="411.70" y2="172.39"/><line x1="414.20" y1="164.72" x2="411.70" y2="164.72"/><line x1="414.20" y1="157.06" x2="411.00" y2="157.06"/><line x1="414.20" y1="149.39" x2="411.70" y2="149.39"/><line x1="414.20" y1="141.72" x2="411.70" y2="141.72"/><line x1="414.20" y1="134.06" x2="411.70" y2="134.06"/><line x1="414.20" y1="126.39" x2="411.00" y2="126.39"/><line x1="414.20" y1="118.73" x2="411.70" y2="118.73"/><line x1="414.20" y1="111.06" x2="411.70" y2="111.06"/><line x1="414.20" y1="103.39" x2="411.70" y2="103.39"/><line x1="414.20" y1="95.73" x2="411.00" y2="95.73"/><line x1="414.20" y1="88.06" x2="411.70" y2="88.06"/><line x1="414.20" y1="80.40" x2="411.70" y2="80.40"/><line x1="414.20" y1="72.73" x2="411.70" y2="72.73"/><line x1="414.20" y1="65.06" x2="411.00" y2="65.06"/><line x1="414.20" y1="57.40" x2="411.70" y2="57.40"/><line x1="414.20" y1="49.73" x2="411.70" y2="49.73"/><line x1="414.20" y1="42.07" x2="411.70" y2="42.07"/><line x1="414.20" y1="34.40" x2="411.00" y2="34.40"/><line x1="414.20" y1="26.73" x2="411.70" y2="26.73"/><line x1="414.20" y1="19.07" x2="411.70" y2="19.07"/></g>
<path d="M415,9.45 L23.60,9.45 L23.60,250.35 L415,250.35" fill="none" stroke="#666666" stroke-width="1.25" stroke-linejoin="miter"/>
<rect x="413.85" y="9.45" width="1.15" height="240.90" fill="#8c8c8c"/>
<circle cx="376.2" cy="19.30" r="3.4" fill="#888888"/><circle cx="376.2" cy="31.55" r="3.4" fill="#ff8000"/><circle cx="376.2" cy="43.80" r="3.4" fill="#800080"/><circle cx="376.2" cy="56.05" r="3.4" fill="#000000"/><circle cx="376.2" cy="68.30" r="3.4" fill="#ff0000"/>
<clipPath id="c2"><rect x="171.40" y="29.25" width="101.90" height="62.20"/></clipPath>
<g clip-path="url(#c2)" fill="none" stroke-linejoin="round">
<path d="M181.40,94.56 L181.45,92.82 L181.50,91.11 L181.55,89.45 L181.60,87.82 L181.65,86.22 L181.70,84.66 L181.75,83.13 L181.80,81.64 L181.85,80.18 L181.90,78.75 L181.96,77.35 L182.01,75.98 L182.06,74.65 L182.12,73.34 L182.17,72.06 L182.22,70.81 L182.28,69.59 L182.33,68.40 L182.39,67.23 L182.44,66.09 L182.50,64.98 L182.56,63.89 L182.61,62.83 L182.67,61.79 L182.73,60.78 L182.79,59.79 L182.84,58.82 L182.90,57.88 L182.96,56.96 L183.02,56.06 L183.08,55.18 L183.14,54.33 L183.20,53.49 L183.26,52.68 L183.32,51.88 L183.38,51.11 L183.45,50.36 L183.51,49.62 L183.57,48.90 L183.63,48.20 L183.70,47.52 L183.76,46.86 L183.83,46.21 L183.89,45.59 L183.96,44.97 L184.02,44.38 L184.09,43.80 L184.15,43.24 L184.22,42.69 L184.29,42.16 L184.35,41.64 L184.42,41.14 L184.49,40.65 L184.56,40.17 L184.63,39.71 L184.70,39.27 L184.77,38.84 L184.84,38.42 L184.91,38.01 L184.98,37.61 L185.06,37.23 L185.13,36.86 L185.20,36.51 L185.28,36.16 L185.35,35.83 L185.42,35.50 L185.50,35.19 L185.57,34.89 L185.65,34.60 L185.73,34.32 L185.80,34.06 L185.88,33.80 L185.96,33.55 L186.04,33.31 L186.12,33.08 L186.20,32.86 L186.28,32.65 L186.36,32.45 L186.44,32.26 L186.52,32.07 L186.60,31.90 L186.68,31.73 L186.77,31.57 L186.85,31.42 L186.93,31.28 L187.02,31.14 L187.10,31.02 L187.19,30.90 L187.27,30.79 L187.36,30.68 L187.45,30.58 L187.54,30.49 L187.63,30.41 L187.71,30.33 L187.80,30.26 L187.89,30.19 L187.98,30.14 L188.08,30.08 L188.17,30.04 L188.26,30.00 L188.35,29.96 L188.45,29.94 L188.54,29.91 L188.64,29.90 L188.73,29.88 L188.83,29.88 L188.92,29.88 L189.02,29.88 L189.12,29.89 L189.22,29.90 L189.32,29.92 L189.42,29.94 L189.52,29.97 L189.62,30.00 L189.72,30.04 L189.82,30.08 L189.93,30.12 L190.03,30.17 L190.13,30.22 L190.24,30.28 L190.35,30.34 L190.45,30.40 L190.56,30.47 L190.67,30.54 L190.78,30.62 L190.88,30.70 L190.99,30.78 L191.11,30.87 L191.22,30.95 L191.33,31.05 L191.44,31.14 L191.55,31.24 L191.67,31.34 L191.78,31.44 L191.90,31.55 L192.02,31.66 L192.13,31.77 L192.25,31.89 L192.37,32.00 L192.49,32.12 L192.61,32.24 L192.73,32.37 L192.85,32.50 L192.97,32.62 L193.10,32.76 L193.22,32.89 L193.35,33.03 L193.47,33.16 L193.60,33.30 L193.72,33.44 L193.85,33.59 L193.98,33.73 L194.11,33.88 L194.24,34.03 L194.37,34.18 L194.51,34.33 L194.64,34.49 L194.77,34.64 L194.91,34.80 L195.04,34.96 L195.18,35.12 L195.32,35.28 L195.45,35.44 L195.59,35.61 L195.73,35.77 L195.87,35.94 L196.02,36.11 L196.16,36.28 L196.30,36.45 L196.45,36.62 L196.59,36.79 L196.74,36.97 L196.89,37.14 L197.03,37.32 L197.18,37.49 L197.33,37.67 L197.49,37.85 L197.64,38.03 L197.79,38.21 L197.94,38.39 L198.10,38.57 L198.26,38.75 L198.41,38.93 L198.57,39.12 L198.73,39.30 L198.89,39.48 L199.05,39.67 L199.21,39.86 L199.38,40.04 L199.54,40.23 L199.70,40.42 L199.87,40.60 L200.04,40.79 L200.21,40.98 L200.38,41.17 L200.55,41.36 L200.72,41.55 L200.89,41.74 L201.07,41.93 L201.24,42.12 L201.42,42.31 L201.59,42.50 L201.77,42.69 L201.95,42.88 L202.13,43.07 L202.31,43.26 L202.50,43.45 L202.68,43.65 L202.87,43.84 L203.05,44.03 L203.24,44.22 L203.43,44.41 L203.62,44.61 L203.81,44.80 L204.00,44.99 L204.20,45.18 L204.39,45.37 L204.59,45.57 L204.79,45.76 L204.98,45.95 L205.18,46.14 L205.39,46.33 L205.59,46.52 L205.79,46.71 L206.00,46.90 L206.20,47.10 L206.41,47.29 L206.62,47.48 L206.83,47.67 L207.04,47.86 L207.26,48.05 L207.47,48.24 L207.69,48.43 L207.90,48.61 L208.12,48.80 L208.34,48.99 L208.56,49.18 L208.79,49.37 L209.01,49.55 L209.24,49.74 L209.46,49.93 L209.69,50.11 L209.92,50.30 L210.15,50.49 L210.39,50.67 L210.62,50.86 L210.86,51.04 L211.10,51.23 L211.34,51.41 L211.58,51.59 L211.82,51.78 L212.06,51.96 L212.31,52.14 L212.55,52.32 L212.80,52.50 L213.05,52.68 L213.30,52.86 L213.56,53.04 L213.81,53.22 L214.07,53.40 L214.33,53.58 L214.59,53.76 L214.85,53.93 L215.11,54.11 L215.38,54.29 L215.64,54.46 L215.91,54.64 L216.18,54.81 L216.45,54.99 L216.72,55.16 L217.00,55.33 L217.28,55.51 L217.56,55.68 L217.84,55.85 L218.12,56.02 L218.40,56.19 L218.69,56.36 L218.98,56.53 L219.27,56.70 L219.56,56.87 L219.85,57.04 L220.14,57.20 L220.44,57.37 L220.74,57.53 L221.04,57.70 L221.34,57.86 L221.65,58.03 L221.96,58.19 L222.26,58.35 L222.57,58.52 L222.89,58.68 L223.20,58.84 L223.52,59.00 L223.84,59.16 L224.16,59.32 L224.48,59.48 L224.80,59.64 L225.13,59.79 L225.46,59.95 L225.79,60.11 L226.12,60.26 L226.46,60.42 L226.80,60.57 L227.14,60.72 L227.48,60.88 L227.82,61.03 L228.17,61.18 L228.52,61.33 L228.87,61.48 L229.22,61.63 L229.57,61.78 L229.93,61.93 L230.29,62.08 L230.65,62.22 L231.02,62.37 L231.38,62.52 L231.75,62.66 L232.12,62.81 L232.50,62.95 L232.87,63.09 L233.25,63.24 L233.63,63.38 L234.01,63.52 L234.40,63.66 L234.79,63.80 L235.18,63.94 L235.57,64.08 L235.97,64.22 L236.37,64.36 L236.77,64.49 L237.17,64.63 L237.58,64.77 L237.98,64.90 L238.39,65.04 L238.81,65.17 L239.22,65.30 L239.64,65.44 L240.07,65.57 L240.49,65.70 L240.92,65.83 L241.35,65.96 L241.78,66.09 L242.21,66.22 L242.65,66.35 L243.09,66.47 L243.54,66.60 L243.98,66.73 L244.43,66.85 L244.88,66.98 L245.34,67.10 L245.80,67.23 L246.26,67.35 L246.72,67.47 L247.19,67.59 L247.66,67.72 L248.13,67.84 L248.61,67.96 L249.09,68.08 L249.57,68.19 L250.05,68.31 L250.54,68.43 L251.03,68.55 L251.53,68.66 L252.03,68.78 L252.53,68.90 L253.03,69.01 L253.54,69.12 L254.05,69.24 L254.56,69.35 L255.08,69.46 L255.60,69.57 L256.12,69.69 L256.65,69.80 L257.18,69.91 L257.71,70.02 L258.25,70.12 L258.79,70.23 L259.34,70.34 L259.88,70.45 L260.43,70.55 L260.99,70.66 L261.55,70.76 L262.11,70.87 L262.67,70.97 L263.24,71.08 L263.82,71.18 L264.39,71.28 L264.97,71.38 L265.56,71.48 L266.14,71.59 L266.73,71.69 L267.33,71.78 L267.93,71.88 L268.53,71.98 L269.14,72.08 L269.75,72.18 L270.36,72.27 L270.98,72.37 L271.60,72.47" stroke="#606060" stroke-width="0.90"/>
<path d="M181.54,94.56 L181.59,92.92 L181.64,91.32 L181.69,89.76 L181.74,88.23 L181.79,86.73 L181.84,85.26 L181.90,83.83 L181.95,82.42 L182.00,81.05 L182.05,79.70 L182.11,78.39 L182.16,77.10 L182.21,75.84 L182.27,74.62 L182.32,73.41 L182.38,72.24 L182.43,71.09 L182.49,69.96 L182.54,68.86 L182.60,67.79 L182.66,66.74 L182.71,65.72 L182.77,64.71 L182.83,63.73 L182.89,62.78 L182.94,61.84 L183.00,60.93 L183.06,60.04 L183.12,59.17 L183.18,58.32 L183.24,57.49 L183.30,56.69 L183.36,55.90 L183.42,55.13 L183.48,54.38 L183.55,53.64 L183.61,52.93 L183.67,52.23 L183.74,51.55 L183.80,50.89 L183.86,50.25 L183.93,49.62 L183.99,49.01 L184.06,48.41 L184.12,47.83 L184.19,47.26 L184.26,46.71 L184.32,46.18 L184.39,45.66 L184.46,45.15 L184.53,44.66 L184.60,44.18 L184.67,43.72 L184.73,43.27 L184.80,42.83 L184.88,42.40 L184.95,41.99 L185.02,41.59 L185.09,41.20 L185.16,40.82 L185.23,40.46 L185.31,40.11 L185.38,39.76 L185.46,39.43 L185.53,39.11 L185.61,38.80 L185.68,38.51 L185.76,38.22 L185.83,37.94 L185.91,37.67 L185.99,37.41 L186.07,37.16 L186.14,36.92 L186.22,36.69 L186.30,36.47 L186.38,36.26 L186.46,36.05 L186.54,35.86 L186.63,35.67 L186.71,35.49 L186.79,35.32 L186.87,35.16 L186.96,35.00 L187.04,34.85 L187.13,34.71 L187.21,34.58 L187.30,34.45 L187.38,34.33 L187.47,34.22 L187.56,34.12 L187.65,34.02 L187.73,33.93 L187.82,33.84 L187.91,33.76 L188.00,33.69 L188.09,33.62 L188.19,33.56 L188.28,33.51 L188.37,33.46 L188.46,33.41 L188.56,33.37 L188.65,33.34 L188.75,33.31 L188.84,33.29 L188.94,33.27 L189.03,33.26 L189.13,33.25 L189.23,33.25 L189.33,33.25 L189.43,33.26 L189.53,33.27 L189.63,33.28 L189.73,33.30 L189.83,33.32 L189.93,33.35 L190.04,33.38 L190.14,33.42 L190.24,33.46 L190.35,33.50 L190.45,33.55 L190.56,33.60 L190.67,33.65 L190.78,33.71 L190.88,33.77 L190.99,33.83 L191.10,33.90 L191.21,33.97 L191.32,34.04 L191.44,34.12 L191.55,34.20 L191.66,34.28 L191.78,34.37 L191.89,34.46 L192.01,34.55 L192.12,34.64 L192.24,34.74 L192.36,34.83 L192.48,34.93 L192.59,35.04 L192.71,35.14 L192.84,35.25 L192.96,35.36 L193.08,35.47 L193.20,35.59 L193.33,35.71 L193.45,35.82 L193.58,35.95 L193.70,36.07 L193.83,36.19 L193.96,36.32 L194.09,36.45 L194.21,36.58 L194.34,36.71 L194.48,36.84 L194.61,36.98 L194.74,37.11 L194.87,37.25 L195.01,37.39 L195.14,37.53 L195.28,37.67 L195.42,37.82 L195.55,37.96 L195.69,38.11 L195.83,38.25 L195.97,38.40 L196.11,38.55 L196.26,38.70 L196.40,38.85 L196.54,39.01 L196.69,39.16 L196.83,39.32 L196.98,39.47 L197.13,39.63 L197.28,39.79 L197.43,39.95 L197.58,40.10 L197.73,40.26 L197.88,40.43 L198.04,40.59 L198.19,40.75 L198.35,40.91 L198.50,41.08 L198.66,41.24 L198.82,41.41 L198.98,41.57 L199.14,41.74 L199.30,41.90 L199.46,42.07 L199.63,42.24 L199.79,42.41 L199.96,42.57 L200.12,42.74 L200.29,42.91 L200.46,43.08 L200.63,43.25 L200.80,43.42 L200.97,43.59 L201.14,43.76 L201.32,43.93 L201.49,44.10 L201.67,44.27 L201.85,44.45 L202.03,44.62 L202.21,44.79 L202.39,44.96 L202.57,45.13 L202.75,45.30 L202.94,45.48 L203.12,45.65 L203.31,45.82 L203.50,45.99 L203.69,46.17 L203.88,46.34 L204.07,46.51 L204.26,46.68 L204.46,46.85 L204.65,47.03 L204.85,47.20 L205.04,47.37 L205.24,47.54 L205.44,47.71 L205.65,47.88 L205.85,48.06 L206.05,48.23 L206.26,48.40 L206.46,48.57 L206.67,48.74 L206.88,48.91 L207.09,49.08 L207.30,49.25 L207.52,49.42 L207.73,49.59 L207.95,49.76 L208.17,49.93 L208.38,50.09 L208.60,50.26 L208.83,50.43 L209.05,50.60 L209.27,50.77 L209.50,50.93 L209.73,51.10 L209.95,51.26 L210.19,51.43 L210.42,51.60 L210.65,51.76 L210.88,51.93 L211.12,52.09 L211.36,52.25 L211.60,52.42 L211.84,52.58 L212.08,52.74 L212.32,52.91 L212.57,53.07 L212.81,53.23 L213.06,53.39 L213.31,53.55 L213.56,53.71 L213.82,53.87 L214.07,54.03 L214.33,54.19 L214.59,54.34 L214.85,54.50 L215.11,54.66 L215.37,54.82 L215.63,54.97 L215.90,55.13 L216.17,55.28 L216.44,55.44 L216.71,55.59 L216.98,55.74 L217.26,55.90 L217.53,56.05 L217.81,56.20 L218.09,56.35 L218.37,56.50 L218.66,56.65 L218.94,56.80 L219.23,56.95 L219.52,57.10 L219.81,57.25 L220.10,57.39 L220.40,57.54 L220.69,57.69 L220.99,57.83 L221.29,57.98 L221.59,58.12 L221.90,58.27 L222.20,58.41 L222.51,58.55 L222.82,58.69 L223.13,58.83 L223.45,58.97 L223.76,59.12 L224.08,59.25 L224.40,59.39 L224.72,59.53 L225.05,59.67 L225.37,59.81 L225.70,59.94 L226.03,60.08 L226.36,60.21 L226.70,60.35 L227.03,60.48 L227.37,60.62 L227.71,60.75 L228.05,60.88 L228.40,61.01 L228.75,61.14 L229.10,61.27 L229.45,61.40 L229.80,61.53 L230.16,61.66 L230.52,61.79 L230.88,61.92 L231.24,62.04 L231.60,62.17 L231.97,62.29 L232.34,62.42 L232.71,62.54 L233.09,62.67 L233.47,62.79 L233.84,62.91 L234.23,63.03 L234.61,63.15 L235.00,63.27 L235.39,63.39 L235.78,63.51 L236.17,63.63 L236.57,63.75 L236.97,63.87 L237.37,63.98 L237.77,64.10 L238.18,64.21 L238.59,64.33 L239.00,64.44 L239.42,64.55 L239.83,64.67 L240.25,64.78 L240.67,64.89 L241.10,65.00 L241.53,65.11 L241.96,65.22 L242.39,65.33 L242.83,65.44 L243.27,65.55 L243.71,65.65 L244.15,65.76 L244.60,65.87 L245.05,65.97 L245.50,66.08 L245.96,66.18 L246.42,66.28 L246.88,66.39 L247.34,66.49 L247.81,66.59 L248.28,66.69 L248.75,66.79 L249.23,66.89 L249.71,66.99 L250.19,67.09 L250.68,67.19 L251.17,67.28 L251.66,67.38 L252.15,67.48 L252.65,67.57 L253.15,67.67 L253.66,67.76 L254.16,67.86 L254.67,67.95 L255.19,68.04 L255.71,68.13 L256.23,68.23 L256.75,68.32 L257.28,68.41 L257.81,68.50 L258.34,68.59 L258.88,68.67 L259.42,68.76 L259.96,68.85 L260.51,68.94 L261.06,69.02 L261.62,69.11 L262.17,69.19 L262.74,69.28 L263.30,69.36 L263.87,69.45 L264.44,69.53 L265.02,69.61 L265.60,69.69 L266.18,69.77 L266.77,69.86 L267.36,69.94 L267.95,70.01 L268.55,70.09 L269.15,70.17 L269.76,70.25 L270.37,70.33 L270.98,70.40 L271.60,70.48" stroke="#ff8000" stroke-width="1.20" stroke-dasharray="0.8 2.4"/>
<path d="M181.69,94.56 L181.74,93.03 L181.80,91.53 L181.85,90.07 L181.90,88.63 L181.95,87.23 L182.00,85.85 L182.05,84.51 L182.11,83.19 L182.16,81.90 L182.21,80.64 L182.27,79.41 L182.32,78.20 L182.37,77.02 L182.43,75.87 L182.48,74.74 L182.54,73.64 L182.60,72.56 L182.65,71.50 L182.71,70.47 L182.76,69.46 L182.82,68.47 L182.88,67.51 L182.94,66.56 L182.99,65.64 L183.05,64.74 L183.11,63.87 L183.17,63.01 L183.23,62.17 L183.29,61.35 L183.35,60.55 L183.41,59.77 L183.47,59.00 L183.54,58.26 L183.60,57.53 L183.66,56.83 L183.72,56.13 L183.79,55.46 L183.85,54.80 L183.91,54.16 L183.98,53.53 L184.04,52.92 L184.11,52.33 L184.17,51.75 L184.24,51.19 L184.30,50.64 L184.37,50.10 L184.44,49.58 L184.51,49.07 L184.57,48.58 L184.64,48.10 L184.71,47.63 L184.78,47.18 L184.85,46.74 L184.92,46.31 L184.99,45.89 L185.06,45.49 L185.13,45.09 L185.21,44.71 L185.28,44.34 L185.35,43.98 L185.43,43.64 L185.50,43.30 L185.57,42.97 L185.65,42.66 L185.72,42.35 L185.80,42.05 L185.88,41.77 L185.95,41.49 L186.03,41.22 L186.11,40.96 L186.19,40.72 L186.26,40.47 L186.34,40.24 L186.42,40.02 L186.50,39.81 L186.58,39.60 L186.66,39.40 L186.75,39.21 L186.83,39.03 L186.91,38.86 L186.99,38.69 L187.08,38.53 L187.16,38.38 L187.25,38.23 L187.33,38.09 L187.42,37.96 L187.50,37.84 L187.59,37.72 L187.68,37.61 L187.77,37.50 L187.86,37.40 L187.94,37.31 L188.03,37.22 L188.12,37.14 L188.22,37.07 L188.31,37.00 L188.40,36.93 L188.49,36.88 L188.58,36.82 L188.68,36.77 L188.77,36.73 L188.87,36.69 L188.96,36.66 L189.06,36.63 L189.16,36.61 L189.25,36.59 L189.35,36.57 L189.45,36.56 L189.55,36.56 L189.65,36.56 L189.75,36.56 L189.85,36.57 L189.95,36.58 L190.05,36.59 L190.16,36.61 L190.26,36.63 L190.37,36.66 L190.47,36.69 L190.58,36.72 L190.68,36.76 L190.79,36.80 L190.90,36.84 L191.01,36.89 L191.11,36.94 L191.22,36.99 L191.33,37.05 L191.45,37.11 L191.56,37.17 L191.67,37.24 L191.78,37.30 L191.90,37.37 L192.01,37.45 L192.13,37.52 L192.24,37.60 L192.36,37.68 L192.48,37.76 L192.60,37.85 L192.71,37.94 L192.83,38.02 L192.96,38.12 L193.08,38.21 L193.20,38.31 L193.32,38.40 L193.44,38.51 L193.57,38.61 L193.69,38.71 L193.82,38.82 L193.95,38.92 L194.07,39.03 L194.20,39.14 L194.33,39.26 L194.46,39.37 L194.59,39.49 L194.72,39.61 L194.86,39.72 L194.99,39.84 L195.12,39.97 L195.26,40.09 L195.39,40.21 L195.53,40.34 L195.67,40.47 L195.81,40.59 L195.95,40.72 L196.09,40.85 L196.23,40.99 L196.37,41.12 L196.51,41.25 L196.66,41.39 L196.80,41.52 L196.95,41.66 L197.09,41.80 L197.24,41.93 L197.39,42.07 L197.54,42.21 L197.69,42.35 L197.84,42.50 L197.99,42.64 L198.14,42.78 L198.30,42.92 L198.45,43.07 L198.61,43.21 L198.77,43.36 L198.92,43.50 L199.08,43.65 L199.24,43.80 L199.40,43.95 L199.56,44.09 L199.73,44.24 L199.89,44.39 L200.06,44.54 L200.22,44.69 L200.39,44.84 L200.56,44.99 L200.73,45.14 L200.90,45.29 L201.07,45.44 L201.24,45.59 L201.41,45.74 L201.59,45.90 L201.76,46.05 L201.94,46.20 L202.12,46.35 L202.30,46.50 L202.48,46.66 L202.66,46.81 L202.84,46.96 L203.03,47.11 L203.21,47.27 L203.40,47.42 L203.58,47.57 L203.77,47.72 L203.96,47.88 L204.15,48.03 L204.34,48.18 L204.54,48.34 L204.73,48.49 L204.93,48.64 L205.12,48.79 L205.32,48.94 L205.52,49.10 L205.72,49.25 L205.92,49.40 L206.12,49.55 L206.33,49.70 L206.53,49.85 L206.74,50.00 L206.95,50.15 L207.16,50.31 L207.37,50.46 L207.58,50.61 L207.79,50.75 L208.01,50.90 L208.23,51.05 L208.44,51.20 L208.66,51.35 L208.88,51.50 L209.10,51.65 L209.33,51.79 L209.55,51.94 L209.78,52.09 L210.00,52.23 L210.23,52.38 L210.46,52.53 L210.69,52.67 L210.93,52.82 L211.16,52.96 L211.40,53.11 L211.63,53.25 L211.87,53.39 L212.11,53.54 L212.36,53.68 L212.60,53.82 L212.84,53.96 L213.09,54.10 L213.34,54.24 L213.59,54.38 L213.84,54.52 L214.09,54.66 L214.35,54.80 L214.60,54.94 L214.86,55.08 L215.12,55.22 L215.38,55.35 L215.64,55.49 L215.91,55.62 L216.17,55.76 L216.44,55.89 L216.71,56.03 L216.98,56.16 L217.25,56.30 L217.53,56.43 L217.80,56.56 L218.08,56.69 L218.36,56.82 L218.64,56.95 L218.93,57.08 L219.21,57.21 L219.50,57.34 L219.79,57.47 L220.08,57.60 L220.37,57.73 L220.66,57.85 L220.96,57.98 L221.26,58.10 L221.56,58.23 L221.86,58.35 L222.16,58.48 L222.47,58.60 L222.77,58.72 L223.08,58.84 L223.39,58.96 L223.71,59.09 L224.02,59.21 L224.34,59.33 L224.66,59.44 L224.98,59.56 L225.30,59.68 L225.63,59.80 L225.95,59.91 L226.28,60.03 L226.61,60.14 L226.95,60.26 L227.28,60.37 L227.62,60.49 L227.96,60.60 L228.30,60.71 L228.64,60.82 L228.99,60.93 L229.34,61.05 L229.69,61.15 L230.04,61.26 L230.40,61.37 L230.75,61.48 L231.11,61.59 L231.47,61.69 L231.84,61.80 L232.20,61.91 L232.57,62.01 L232.94,62.11 L233.32,62.22 L233.69,62.32 L234.07,62.42 L234.45,62.53 L234.83,62.63 L235.22,62.73 L235.61,62.83 L236.00,62.93 L236.39,63.02 L236.78,63.12 L237.18,63.22 L237.58,63.32 L237.98,63.41 L238.39,63.51 L238.79,63.60 L239.20,63.70 L239.62,63.79 L240.03,63.88 L240.45,63.98 L240.87,64.07 L241.29,64.16 L241.72,64.25 L242.15,64.34 L242.58,64.43 L243.01,64.52 L243.45,64.61 L243.89,64.69 L244.33,64.78 L244.78,64.87 L245.22,64.95 L245.67,65.04 L246.13,65.12 L246.58,65.21 L247.04,65.29 L247.50,65.37 L247.97,65.45 L248.44,65.54 L248.91,65.62 L249.38,65.70 L249.86,65.78 L250.34,65.86 L250.82,65.93 L251.31,66.01 L251.79,66.09 L252.29,66.17 L252.78,66.24 L253.28,66.32 L253.78,66.39 L254.28,66.47 L254.79,66.54 L255.30,66.61 L255.82,66.69 L256.33,66.76 L256.85,66.83 L257.38,66.90 L257.91,66.97 L258.44,67.04 L258.97,67.11 L259.51,67.18 L260.05,67.25 L260.59,67.32 L261.14,67.38 L261.69,67.45 L262.24,67.52 L262.80,67.58 L263.36,67.65 L263.93,67.71 L264.49,67.77 L265.07,67.84 L265.64,67.90 L266.22,67.96 L266.80,68.02 L267.39,68.08 L267.98,68.14 L268.57,68.20 L269.17,68.26 L269.77,68.32 L270.38,68.38 L270.99,68.44 L271.60,68.50" stroke="#800080" stroke-width="1.25" stroke-dasharray="0.8 2.38 2.78 2.38"/>
<path d="M181.86,94.56 L181.91,93.13 L181.96,91.74 L182.01,90.37 L182.07,89.03 L182.12,87.72 L182.17,86.43 L182.22,85.18 L182.28,83.95 L182.33,82.74 L182.38,81.56 L182.44,80.41 L182.49,79.28 L182.55,78.18 L182.60,77.10 L182.66,76.04 L182.71,75.01 L182.77,74.00 L182.83,73.01 L182.88,72.04 L182.94,71.09 L183.00,70.17 L183.06,69.27 L183.12,68.38 L183.17,67.52 L183.23,66.67 L183.29,65.85 L183.35,65.04 L183.41,64.26 L183.47,63.49 L183.54,62.73 L183.60,62.00 L183.66,61.28 L183.72,60.58 L183.78,59.90 L183.85,59.23 L183.91,58.58 L183.97,57.95 L184.04,57.33 L184.10,56.72 L184.17,56.13 L184.23,55.56 L184.30,55.00 L184.37,54.45 L184.43,53.92 L184.50,53.40 L184.57,52.89 L184.63,52.40 L184.70,51.92 L184.77,51.45 L184.84,51.00 L184.91,50.56 L184.98,50.13 L185.05,49.71 L185.12,49.30 L185.19,48.91 L185.26,48.52 L185.34,48.15 L185.41,47.78 L185.48,47.43 L185.56,47.09 L185.63,46.76 L185.70,46.44 L185.78,46.13 L185.86,45.82 L185.93,45.53 L186.01,45.25 L186.08,44.97 L186.16,44.71 L186.24,44.45 L186.32,44.20 L186.40,43.96 L186.48,43.73 L186.56,43.51 L186.64,43.29 L186.72,43.09 L186.80,42.89 L186.88,42.70 L186.96,42.51 L187.05,42.33 L187.13,42.16 L187.21,42.00 L187.30,41.85 L187.38,41.70 L187.47,41.55 L187.55,41.42 L187.64,41.29 L187.73,41.16 L187.81,41.05 L187.90,40.94 L187.99,40.83 L188.08,40.73 L188.17,40.64 L188.26,40.55 L188.35,40.47 L188.44,40.39 L188.54,40.32 L188.63,40.25 L188.72,40.19 L188.82,40.13 L188.91,40.08 L189.00,40.03 L189.10,39.99 L189.20,39.95 L189.29,39.92 L189.39,39.89 L189.49,39.86 L189.59,39.84 L189.69,39.83 L189.79,39.81 L189.89,39.80 L189.99,39.80 L190.09,39.80 L190.19,39.80 L190.30,39.81 L190.40,39.82 L190.50,39.83 L190.61,39.85 L190.71,39.87 L190.82,39.89 L190.93,39.92 L191.03,39.95 L191.14,39.98 L191.25,40.02 L191.36,40.06 L191.47,40.10 L191.58,40.15 L191.69,40.19 L191.81,40.24 L191.92,40.30 L192.03,40.35 L192.15,40.41 L192.26,40.47 L192.38,40.53 L192.50,40.60 L192.61,40.67 L192.73,40.74 L192.85,40.81 L192.97,40.88 L193.09,40.96 L193.21,41.04 L193.33,41.12 L193.46,41.20 L193.58,41.28 L193.70,41.37 L193.83,41.46 L193.95,41.55 L194.08,41.64 L194.21,41.73 L194.34,41.82 L194.47,41.92 L194.60,42.02 L194.73,42.12 L194.86,42.22 L194.99,42.32 L195.12,42.42 L195.26,42.53 L195.39,42.63 L195.53,42.74 L195.66,42.85 L195.80,42.96 L195.94,43.07 L196.08,43.18 L196.22,43.29 L196.36,43.40 L196.50,43.52 L196.64,43.63 L196.78,43.75 L196.93,43.87 L197.07,43.99 L197.22,44.11 L197.37,44.23 L197.51,44.35 L197.66,44.47 L197.81,44.59 L197.96,44.71 L198.12,44.84 L198.27,44.96 L198.42,45.09 L198.58,45.21 L198.73,45.34 L198.89,45.47 L199.05,45.59 L199.20,45.72 L199.36,45.85 L199.52,45.98 L199.68,46.11 L199.85,46.24 L200.01,46.37 L200.17,46.50 L200.34,46.63 L200.51,46.76 L200.67,46.89 L200.84,47.02 L201.01,47.15 L201.18,47.29 L201.35,47.42 L201.53,47.55 L201.70,47.68 L201.88,47.82 L202.05,47.95 L202.23,48.08 L202.41,48.21 L202.59,48.35 L202.77,48.48 L202.95,48.61 L203.13,48.75 L203.31,48.88 L203.50,49.01 L203.69,49.15 L203.87,49.28 L204.06,49.41 L204.25,49.55 L204.44,49.68 L204.63,49.81 L204.83,49.95 L205.02,50.08 L205.22,50.21 L205.41,50.34 L205.61,50.48 L205.81,50.61 L206.01,50.74 L206.21,50.87 L206.42,51.01 L206.62,51.14 L206.83,51.27 L207.03,51.40 L207.24,51.53 L207.45,51.66 L207.66,51.79 L207.88,51.92 L208.09,52.05 L208.30,52.18 L208.52,52.31 L208.74,52.44 L208.96,52.57 L209.18,52.70 L209.40,52.83 L209.62,52.95 L209.85,53.08 L210.07,53.21 L210.30,53.33 L210.53,53.46 L210.76,53.59 L210.99,53.71 L211.22,53.84 L211.46,53.96 L211.69,54.09 L211.93,54.21 L212.17,54.33 L212.41,54.46 L212.65,54.58 L212.89,54.70 L213.14,54.82 L213.38,54.94 L213.63,55.06 L213.88,55.18 L214.13,55.30 L214.39,55.42 L214.64,55.54 L214.90,55.66 L215.15,55.78 L215.41,55.90 L215.67,56.01 L215.93,56.13 L216.20,56.25 L216.46,56.36 L216.73,56.48 L217.00,56.59 L217.27,56.70 L217.54,56.82 L217.82,56.93 L218.09,57.04 L218.37,57.15 L218.65,57.27 L218.93,57.38 L219.21,57.49 L219.50,57.60 L219.78,57.70 L220.07,57.81 L220.36,57.92 L220.65,58.03 L220.94,58.13 L221.24,58.24 L221.54,58.35 L221.84,58.45 L222.14,58.56 L222.44,58.66 L222.74,58.76 L223.05,58.87 L223.36,58.97 L223.67,59.07 L223.98,59.17 L224.29,59.27 L224.61,59.37 L224.93,59.47 L225.25,59.57 L225.57,59.67 L225.89,59.76 L226.22,59.86 L226.55,59.96 L226.88,60.05 L227.21,60.15 L227.55,60.24 L227.88,60.33 L228.22,60.43 L228.56,60.52 L228.90,60.61 L229.25,60.70 L229.60,60.79 L229.94,60.88 L230.30,60.97 L230.65,61.06 L231.00,61.15 L231.36,61.24 L231.72,61.32 L232.09,61.41 L232.45,61.50 L232.82,61.58 L233.19,61.67 L233.56,61.75 L233.93,61.83 L234.31,61.92 L234.69,62.00 L235.07,62.08 L235.45,62.16 L235.84,62.24 L236.23,62.32 L236.62,62.40 L237.01,62.48 L237.40,62.56 L237.80,62.63 L238.20,62.71 L238.61,62.79 L239.01,62.86 L239.42,62.94 L239.83,63.01 L240.24,63.08 L240.66,63.16 L241.08,63.23 L241.50,63.30 L241.92,63.37 L242.35,63.44 L242.78,63.51 L243.21,63.58 L243.64,63.65 L244.08,63.72 L244.52,63.79 L244.96,63.85 L245.41,63.92 L245.85,63.99 L246.30,64.05 L246.76,64.12 L247.21,64.18 L247.67,64.24 L248.14,64.31 L248.60,64.37 L249.07,64.43 L249.54,64.49 L250.01,64.55 L250.49,64.61 L250.97,64.67 L251.45,64.73 L251.94,64.79 L252.43,64.85 L252.92,64.90 L253.41,64.96 L253.91,65.02 L254.41,65.07 L254.92,65.13 L255.42,65.18 L255.93,65.23 L256.45,65.29 L256.97,65.34 L257.49,65.39 L258.01,65.44 L258.54,65.49 L259.07,65.54 L259.60,65.59 L260.14,65.64 L260.68,65.69 L261.22,65.74 L261.77,65.79 L262.32,65.83 L262.87,65.88 L263.43,65.92 L263.99,65.97 L264.55,66.01 L265.12,66.06 L265.69,66.10 L266.26,66.15 L266.84,66.19 L267.42,66.23 L268.01,66.27 L268.60,66.31 L269.19,66.35 L269.79,66.39 L270.39,66.43 L270.99,66.47 L271.60,66.51" stroke="#000000" stroke-width="1.25"/>
<path d="M182.04,94.56 L182.09,93.23 L182.14,91.93 L182.19,90.66 L182.25,89.41 L182.30,88.19 L182.35,87.00 L182.41,85.83 L182.46,84.68 L182.51,83.56 L182.57,82.47 L182.62,81.39 L182.68,80.34 L182.73,79.31 L182.79,78.30 L182.85,77.32 L182.90,76.35 L182.96,75.41 L183.02,74.49 L183.08,73.58 L183.13,72.70 L183.19,71.83 L183.25,70.99 L183.31,70.16 L183.37,69.36 L183.43,68.57 L183.49,67.79 L183.55,67.04 L183.61,66.30 L183.67,65.58 L183.73,64.88 L183.80,64.19 L183.86,63.52 L183.92,62.86 L183.98,62.22 L184.05,61.59 L184.11,60.98 L184.18,60.39 L184.24,59.80 L184.31,59.24 L184.37,58.68 L184.44,58.14 L184.51,57.61 L184.57,57.10 L184.64,56.60 L184.71,56.11 L184.78,55.63 L184.84,55.17 L184.91,54.71 L184.98,54.27 L185.05,53.84 L185.12,53.42 L185.19,53.02 L185.26,52.62 L185.34,52.24 L185.41,51.86 L185.48,51.50 L185.55,51.14 L185.63,50.80 L185.70,50.46 L185.78,50.14 L185.85,49.82 L185.93,49.52 L186.00,49.22 L186.08,48.93 L186.15,48.65 L186.23,48.38 L186.31,48.12 L186.39,47.87 L186.47,47.62 L186.54,47.38 L186.62,47.15 L186.70,46.93 L186.78,46.72 L186.87,46.51 L186.95,46.31 L187.03,46.12 L187.11,45.93 L187.19,45.75 L187.28,45.58 L187.36,45.41 L187.45,45.26 L187.53,45.10 L187.62,44.96 L187.70,44.82 L187.79,44.68 L187.88,44.55 L187.97,44.43 L188.05,44.32 L188.14,44.20 L188.23,44.10 L188.32,44.00 L188.41,43.90 L188.50,43.81 L188.60,43.73 L188.69,43.65 L188.78,43.57 L188.87,43.51 L188.97,43.44 L189.06,43.38 L189.16,43.32 L189.25,43.27 L189.35,43.22 L189.45,43.18 L189.54,43.14 L189.64,43.11 L189.74,43.08 L189.84,43.05 L189.94,43.03 L190.04,43.01 L190.14,42.99 L190.24,42.98 L190.35,42.97 L190.45,42.97 L190.55,42.96 L190.66,42.97 L190.76,42.97 L190.87,42.98 L190.97,42.99 L191.08,43.00 L191.19,43.02 L191.30,43.04 L191.41,43.06 L191.52,43.09 L191.63,43.12 L191.74,43.15 L191.85,43.18 L191.96,43.22 L192.07,43.26 L192.19,43.30 L192.30,43.34 L192.42,43.39 L192.53,43.44 L192.65,43.49 L192.77,43.54 L192.89,43.60 L193.00,43.65 L193.12,43.71 L193.24,43.77 L193.37,43.83 L193.49,43.90 L193.61,43.97 L193.73,44.03 L193.86,44.10 L193.98,44.17 L194.11,44.25 L194.23,44.32 L194.36,44.40 L194.49,44.48 L194.62,44.56 L194.75,44.64 L194.88,44.72 L195.01,44.80 L195.14,44.89 L195.27,44.97 L195.41,45.06 L195.54,45.15 L195.68,45.24 L195.81,45.33 L195.95,45.42 L196.09,45.52 L196.23,45.61 L196.37,45.71 L196.51,45.80 L196.65,45.90 L196.79,46.00 L196.93,46.10 L197.08,46.20 L197.22,46.30 L197.37,46.40 L197.51,46.50 L197.66,46.60 L197.81,46.71 L197.96,46.81 L198.11,46.92 L198.26,47.02 L198.41,47.13 L198.56,47.24 L198.72,47.34 L198.87,47.45 L199.03,47.56 L199.19,47.67 L199.34,47.78 L199.50,47.89 L199.66,48.00 L199.82,48.11 L199.99,48.22 L200.15,48.33 L200.31,48.44 L200.48,48.55 L200.64,48.67 L200.81,48.78 L200.98,48.89 L201.15,49.00 L201.32,49.12 L201.49,49.23 L201.66,49.34 L201.83,49.46 L202.01,49.57 L202.18,49.69 L202.36,49.80 L202.54,49.91 L202.71,50.03 L202.89,50.14 L203.07,50.26 L203.26,50.37 L203.44,50.49 L203.62,50.60 L203.81,50.71 L204.00,50.83 L204.18,50.94 L204.37,51.06 L204.56,51.17 L204.75,51.29 L204.95,51.40 L205.14,51.51 L205.33,51.63 L205.53,51.74 L205.73,51.85 L205.92,51.97 L206.12,52.08 L206.33,52.19 L206.53,52.30 L206.73,52.42 L206.94,52.53 L207.14,52.64 L207.35,52.75 L207.56,52.86 L207.77,52.98 L207.98,53.09 L208.19,53.20 L208.40,53.31 L208.62,53.42 L208.83,53.53 L209.05,53.64 L209.27,53.75 L209.49,53.85 L209.71,53.96 L209.94,54.07 L210.16,54.18 L210.39,54.29 L210.61,54.39 L210.84,54.50 L211.07,54.61 L211.30,54.71 L211.54,54.82 L211.77,54.92 L212.01,55.03 L212.24,55.13 L212.48,55.23 L212.72,55.34 L212.96,55.44 L213.21,55.54 L213.45,55.65 L213.70,55.75 L213.94,55.85 L214.19,55.95 L214.44,56.05 L214.70,56.15 L214.95,56.25 L215.21,56.35 L215.46,56.44 L215.72,56.54 L215.98,56.64 L216.24,56.74 L216.51,56.83 L216.77,56.93 L217.04,57.02 L217.31,57.12 L217.58,57.21 L217.85,57.31 L218.12,57.40 L218.40,57.49 L218.67,57.58 L218.95,57.67 L219.23,57.77 L219.52,57.86 L219.80,57.95 L220.08,58.03 L220.37,58.12 L220.66,58.21 L220.95,58.30 L221.24,58.39 L221.54,58.47 L221.83,58.56 L222.13,58.64 L222.43,58.73 L222.73,58.81 L223.04,58.90 L223.34,58.98 L223.65,59.06 L223.96,59.14 L224.27,59.23 L224.59,59.31 L224.90,59.39 L225.22,59.47 L225.54,59.54 L225.86,59.62 L226.18,59.70 L226.51,59.78 L226.83,59.85 L227.16,59.93 L227.49,60.01 L227.83,60.08 L228.16,60.16 L228.50,60.23 L228.84,60.30 L229.18,60.37 L229.52,60.45 L229.87,60.52 L230.22,60.59 L230.57,60.66 L230.92,60.73 L231.27,60.80 L231.63,60.86 L231.99,60.93 L232.35,61.00 L232.71,61.07 L233.08,61.13 L233.44,61.20 L233.81,61.26 L234.19,61.33 L234.56,61.39 L234.94,61.45 L235.32,61.51 L235.70,61.58 L236.08,61.64 L236.47,61.70 L236.86,61.76 L237.25,61.82 L237.64,61.87 L238.04,61.93 L238.44,61.99 L238.84,62.05 L239.24,62.10 L239.65,62.16 L240.06,62.21 L240.47,62.27 L240.88,62.32 L241.30,62.38 L241.71,62.43 L242.14,62.48 L242.56,62.53 L242.99,62.58 L243.41,62.63 L243.85,62.68 L244.28,62.73 L244.72,62.78 L245.16,62.83 L245.60,62.87 L246.05,62.92 L246.49,62.97 L246.94,63.01 L247.40,63.06 L247.85,63.10 L248.31,63.15 L248.78,63.19 L249.24,63.23 L249.71,63.27 L250.18,63.32 L250.65,63.36 L251.13,63.40 L251.61,63.44 L252.09,63.48 L252.58,63.52 L253.06,63.55 L253.56,63.59 L254.05,63.63 L254.55,63.66 L255.05,63.70 L255.55,63.74 L256.06,63.77 L256.57,63.81 L257.08,63.84 L257.60,63.87 L258.12,63.90 L258.64,63.94 L259.17,63.97 L259.70,64.00 L260.23,64.03 L260.76,64.06 L261.30,64.09 L261.85,64.12 L262.39,64.15 L262.94,64.17 L263.49,64.20 L264.05,64.23 L264.61,64.25 L265.17,64.28 L265.74,64.30 L266.31,64.33 L266.88,64.35 L267.46,64.37 L268.04,64.40 L268.62,64.42 L269.21,64.44 L269.80,64.46 L270.40,64.48 L271.00,64.50 L271.60,64.52" stroke="#ff0000" stroke-width="1.25" stroke-dasharray="0.8 2.38 2.78 2.38"/>
<path d="M195.24,19.56 L195.35,20.23 L195.46,20.89 L195.57,21.54 L195.68,22.19 L195.79,22.83 L195.90,23.47 L196.02,24.10 L196.13,24.72 L196.24,25.34 L196.36,25.95 L196.47,26.56 L196.59,27.16 L196.70,27.75 L196.82,28.34 L196.94,28.92 L197.06,29.50 L197.17,30.07 L197.29,30.64 L197.41,31.20 L197.53,31.75 L197.65,32.30 L197.78,32.85 L197.90,33.39 L198.02,33.92 L198.14,34.45 L198.27,34.97 L198.39,35.49 L198.52,36.01 L198.65,36.52 L198.77,37.02 L198.90,37.52 L199.03,38.01 L199.16,38.50 L199.28,38.99 L199.41,39.47 L199.55,39.95 L199.68,40.42 L199.81,40.88 L199.94,41.35 L200.07,41.80 L200.21,42.26 L200.34,42.71 L200.48,43.15 L200.61,43.59 L200.75,44.03 L200.89,44.46 L201.03,44.89 L201.16,45.31 L201.30,45.73 L201.44,46.15 L201.58,46.56 L201.73,46.97 L201.87,47.38 L202.01,47.78 L202.16,48.17 L202.30,48.57 L202.45,48.95 L202.59,49.34 L202.74,49.72 L202.89,50.10 L203.03,50.47 L203.18,50.85 L203.33,51.21 L203.48,51.58 L203.63,51.94 L203.79,52.29 L203.94,52.65 L204.09,53.00 L204.25,53.35 L204.40,53.69 L204.56,54.03 L204.71,54.37 L204.87,54.70 L205.03,55.03 L205.19,55.36 L205.35,55.68 L205.51,56.01 L205.67,56.32 L205.83,56.64 L206.00,56.95 L206.16,57.26 L206.32,57.57 L206.49,57.87 L206.66,58.17 L206.82,58.47 L206.99,58.77 L207.16,59.06 L207.33,59.35 L207.50,59.63 L207.67,59.92 L207.85,60.20 L208.02,60.48 L208.19,60.76 L208.37,61.03 L208.54,61.30 L208.72,61.57 L208.90,61.83 L209.08,62.10 L209.26,62.36 L209.44,62.62 L209.62,62.87 L209.80,63.13 L209.99,63.38 L210.17,63.63 L210.35,63.87 L210.54,64.12 L210.73,64.36 L210.92,64.60 L211.10,64.84 L211.29,65.07 L211.49,65.31 L211.68,65.54 L211.87,65.77 L212.06,65.99 L212.26,66.22 L212.45,66.44 L212.65,66.66 L212.85,66.88 L213.05,67.09 L213.25,67.31 L213.45,67.52 L213.65,67.73 L213.85,67.94 L214.06,68.15 L214.26,68.35 L214.47,68.55 L214.67,68.75 L214.88,68.95 L215.09,69.15 L215.30,69.34 L215.51,69.54 L215.72,69.73 L215.94,69.92 L216.15,70.11 L216.37,70.29 L216.58,70.48 L216.80,70.66 L217.02,70.84 L217.24,71.02 L217.46,71.20 L217.68,71.37 L217.91,71.55 L218.13,71.72 L218.36,71.89 L218.58,72.06 L218.81,72.23 L219.04,72.39 L219.27,72.56 L219.50,72.72 L219.74,72.88 L219.97,73.04 L220.20,73.20 L220.44,73.36 L220.68,73.52 L220.92,73.67 L221.16,73.82 L221.40,73.98 L221.64,74.13 L221.88,74.28 L222.13,74.42 L222.37,74.57 L222.62,74.71 L222.87,74.86 L223.12,75.00 L223.37,75.14 L223.62,75.28 L223.87,75.42 L224.13,75.56 L224.39,75.69 L224.64,75.83 L224.90,75.96 L225.16,76.09 L225.42,76.22 L225.68,76.35 L225.95,76.48 L226.21,76.61 L226.48,76.73 L226.75,76.86 L227.02,76.98 L227.29,77.11 L227.56,77.23 L227.83,77.35 L228.11,77.47 L228.39,77.58 L228.66,77.70 L228.94,77.82 L229.22,77.93 L229.50,78.05 L229.79,78.16 L230.07,78.27 L230.36,78.38 L230.65,78.49 L230.93,78.60 L231.23,78.71 L231.52,78.82 L231.81,78.92 L232.11,79.03 L232.40,79.13 L232.70,79.24 L233.00,79.34 L233.30,79.44 L233.60,79.54 L233.91,79.64 L234.21,79.74 L234.52,79.84 L234.83,79.93 L235.14,80.03 L235.45,80.12 L235.77,80.22 L236.08,80.31 L236.40,80.40 L236.72,80.49 L237.04,80.59 L237.36,80.68 L237.68,80.76 L238.00,80.85 L238.33,80.94 L238.66,81.03 L238.99,81.11 L239.32,81.20 L239.65,81.28 L239.99,81.37 L240.33,81.45 L240.66,81.53 L241.00,81.61 L241.35,81.70 L241.69,81.78 L242.03,81.85 L242.38,81.93 L242.73,82.01 L243.08,82.09 L243.43,82.17 L243.79,82.24 L244.14,82.32 L244.50,82.39 L244.86,82.47 L245.22,82.54 L245.58,82.61 L245.95,82.68 L246.32,82.75 L246.68,82.82 L247.05,82.89 L247.43,82.96 L247.80,83.03 L248.18,83.10 L248.56,83.17 L248.94,83.24 L249.32,83.30 L249.70,83.37 L250.09,83.43 L250.47,83.50 L250.86,83.56 L251.26,83.63 L251.65,83.69 L252.05,83.75 L252.44,83.81 L252.84,83.87 L253.25,83.94 L253.65,84.00 L254.05,84.06 L254.46,84.11 L254.87,84.17 L255.28,84.23 L255.70,84.29 L256.12,84.35 L256.53,84.40 L256.95,84.46 L257.38,84.51 L257.80,84.57 L258.23,84.62 L258.66,84.68 L259.09,84.73 L259.52,84.79 L259.96,84.84 L260.40,84.89 L260.84,84.94 L261.28,84.99 L261.72,85.05 L262.17,85.10 L262.62,85.15 L263.07,85.20 L263.52,85.24 L263.98,85.29 L264.44,85.34 L264.90,85.39 L265.36,85.44 L265.83,85.48 L266.30,85.53 L266.77,85.58 L267.24,85.62 L267.71,85.67 L268.19,85.71 L268.67,85.76 L269.15,85.80 L269.64,85.85 L270.12,85.89 L270.61,85.93 L271.11,85.98 L271.60,86.02" stroke="#0000ff" stroke-width="1.1" stroke-dasharray="0.8 2.38 2.78 2.38"/>
</g>
<g stroke="#444" stroke-width="0.5"><line x1="173.70" y1="91.45" x2="173.70" y2="89.65"/><line x1="173.70" y1="29.25" x2="173.70" y2="31.05"/><line x1="178.59" y1="91.45" x2="178.59" y2="90.35"/><line x1="178.59" y1="29.25" x2="178.59" y2="30.35"/><line x1="183.49" y1="91.45" x2="183.49" y2="90.35"/><line x1="183.49" y1="29.25" x2="183.49" y2="30.35"/><line x1="188.38" y1="91.45" x2="188.38" y2="90.35"/><line x1="188.38" y1="29.25" x2="188.38" y2="30.35"/><line x1="193.28" y1="91.45" x2="193.28" y2="89.65"/><line x1="193.28" y1="29.25" x2="193.28" y2="31.05"/><line x1="198.17" y1="91.45" x2="198.17" y2="90.35"/><line x1="198.17" y1="29.25" x2="198.17" y2="30.35"/><line x1="203.07" y1="91.45" x2="203.07" y2="90.35"/><line x1="203.07" y1="29.25" x2="203.07" y2="30.35"/><line x1="207.97" y1="91.45" x2="207.97" y2="90.35"/><line x1="207.97" y1="29.25" x2="207.97" y2="30.35"/><line x1="212.86" y1="91.45" x2="212.86" y2="89.65"/><line x1="212.86" y1="29.25" x2="212.86" y2="31.05"/><line x1="217.75" y1="91.45" x2="217.75" y2="90.35"/><line x1="217.75" y1="29.25" x2="217.75" y2="30.35"/><line x1="222.65" y1="91.45" x2="222.65" y2="90.35"/><line x1="222.65" y1="29.25" x2="222.65" y2="30.35"/><line x1="227.54" y1="91.45" x2="227.54" y2="90.35"/><line x1="227.54" y1="29.25" x2="227.54" y2="30.35"/><line x1="232.44" y1="91.45" x2="232.44" y2="89.65"/><line x1="232.44" y1="29.25" x2="232.44" y2="31.05"/><line x1="237.33" y1="91.45" x2="237.33" y2="90.35"/><line x1="237.33" y1="29.25" x2="237.33" y2="30.35"/><line x1="242.23" y1="91.45" x2="242.23" y2="90.35"/><line x1="242.23" y1="29.25" x2="242.23" y2="30.35"/><line x1="247.12" y1="91.45" x2="247.12" y2="90.35"/><line x1="247.12" y1="29.25" x2="247.12" y2="30.35"/><line x1="252.02" y1="91.45" x2="252.02" y2="89.65"/><line x1="252.02" y1="29.25" x2="252.02" y2="31.05"/><line x1="256.92" y1="91.45" x2="256.92" y2="90.35"/><line x1="256.92" y1="29.25" x2="256.92" y2="30.35"/><line x1="261.81" y1="91.45" x2="261.81" y2="90.35"/><line x1="261.81" y1="29.25" x2="261.81" y2="30.35"/><line x1="266.70" y1="91.45" x2="266.70" y2="90.35"/><line x1="266.70" y1="29.25" x2="266.70" y2="30.35"/><line x1="271.60" y1="91.45" x2="271.60" y2="89.65"/><line x1="271.60" y1="29.25" x2="271.60" y2="31.05"/><line x1="171.40" y1="91.45" x2="173.20" y2="91.45"/><line x1="273.30" y1="91.45" x2="271.50" y2="91.45"/><line x1="171.40" y1="88.34" x2="172.50" y2="88.34"/><line x1="273.30" y1="88.34" x2="272.20" y2="88.34"/><line x1="171.40" y1="85.23" x2="172.50" y2="85.23"/><line x1="273.30" y1="85.23" x2="272.20" y2="85.23"/><line x1="171.40" y1="82.12" x2="172.50" y2="82.12"/><line x1="273.30" y1="82.12" x2="272.20" y2="82.12"/><line x1="171.40" y1="79.01" x2="173.20" y2="79.01"/><line x1="273.30" y1="79.01" x2="271.50" y2="79.01"/><line x1="171.40" y1="75.90" x2="172.50" y2="75.90"/><line x1="273.30" y1="75.90" x2="272.20" y2="75.90"/><line x1="171.40" y1="72.79" x2="172.50" y2="72.79"/><line x1="273.30" y1="72.79" x2="272.20" y2="72.79"/><line x1="171.40" y1="69.68" x2="172.50" y2="69.68"/><line x1="273.30" y1="69.68" x2="272.20" y2="69.68"/><line x1="171.40" y1="66.57" x2="173.20" y2="66.57"/><line x1="273.30" y1="66.57" x2="271.50" y2="66.57"/><line x1="171.40" y1="63.46" x2="172.50" y2="63.46"/><line x1="273.30" y1="63.46" x2="272.20" y2="63.46"/><line x1="171.40" y1="60.35" x2="172.50" y2="60.35"/><line x1="273.30" y1="60.35" x2="272.20" y2="60.35"/><line x1="171.40" y1="57.24" x2="172.50" y2="57.24"/><line x1="273.30" y1="57.24" x2="272.20" y2="57.24"/><line x1="171.40" y1="54.13" x2="173.20" y2="54.13"/><line x1="273.30" y1="54.13" x2="271.50" y2="54.13"/><line x1="171.40" y1="51.02" x2="172.50" y2="51.02"/><line x1="273.30" y1="51.02" x2="272.20" y2="51.02"/><line x1="171.40" y1="47.91" x2="172.50" y2="47.91"/><line x1="273.30" y1="47.91" x2="272.20" y2="47.91"/><line x1="171.40" y1="44.80" x2="172.50" y2="44.80"/><line x1="273.30" y1="44.80" x2="272.20" y2="44.80"/><line x1="171.40" y1="41.69" x2="173.20" y2="41.69"/><line x1="273.30" y1="41.69" x2="271.50" y2="41.69"/><line x1="171.40" y1="38.58" x2="172.50" y2="38.58"/><line x1="273.30" y1="38.58" x2="272.20" y2="38.58"/><line x1="171.40" y1="35.47" x2="172.50" y2="35.47"/><line x1="273.30" y1="35.47" x2="272.20" y2="35.47"/><line x1="171.40" y1="32.36" x2="172.50" y2="32.36"/><line x1="273.30" y1="32.36" x2="272.20" y2="32.36"/><line x1="171.40" y1="29.25" x2="173.20" y2="29.25"/><line x1="273.30" y1="29.25" x2="271.50" y2="29.25"/></g>
<rect x="171.40" y="29.25" width="101.90" height="62.20" fill="none" stroke="#555" stroke-width="0.9"/>
<g class="tx"><g fill="#111" stroke="#111" stroke-width="0.15"><text transform="translate(31.50,261.9) scale(0.95,1.12)" font-size="9.2" text-anchor="middle">0.0</text><text transform="translate(125.22,261.9) scale(0.95,1.12)" font-size="9.2" text-anchor="middle">0.5</text><text transform="translate(218.95,261.9) scale(0.95,1.12)" font-size="9.2" text-anchor="middle">1.0</text><text transform="translate(312.67,261.9) scale(0.95,1.12)" font-size="9.2" text-anchor="middle">1.5</text><text transform="translate(406.40,261.9) scale(0.95,1.12)" font-size="9.2" text-anchor="middle">2.0</text><text x="21.8" y="251.05" font-size="5.8" text-anchor="end">−40</text><text x="21.8" y="220.38" font-size="5.8" text-anchor="end">−20</text><text x="21.8" y="189.72" font-size="5.8" text-anchor="end">0</text><text x="21.8" y="159.06" font-size="5.8" text-anchor="end">20</text><text x="21.8" y="128.39" font-size="5.8" text-anchor="end">40</text><text x="21.8" y="97.73" font-size="5.8" text-anchor="end">60</text><text x="21.8" y="67.06" font-size="5.8" text-anchor="end">80</text><text x="21.8" y="36.40" font-size="5.8" text-anchor="end">100</text></g><text x="219" y="276" font-size="9.1" text-anchor="middle" fill="#222">Impact parameter (b)</text><text transform="translate(5.2,130.1) rotate(-90)" font-size="5.6" text-anchor="middle" fill="#222">Deflection angle (α̂)</text><text x="218.4" y="5.9" font-size="7" text-anchor="middle" fill="#444"><tspan font-style="italic">β</tspan> = M = 1</text><text x="386" y="21.40" font-size="7" font-weight="bold" fill="#111">Λ = 0.1</text><text x="386" y="33.65" font-size="7" font-weight="bold" fill="#111">Λ = 0.3</text><text x="386" y="45.90" font-size="7" font-weight="bold" fill="#111">Λ = 0.5</text><text x="386" y="58.15" font-size="7" font-weight="bold" fill="#111">Λ = 0.7</text><text x="386" y="70.40" font-size="7" font-weight="bold" fill="#111">Λ = 0.9</text><g fill="#111" stroke="#111" stroke-width="0.15"><text transform="translate(173.70,103.0) scale(0.97,1.1)" font-size="8.6" text-anchor="middle">0.0</text><text transform="translate(193.28,103.0) scale(0.97,1.1)" font-size="8.6" text-anchor="middle">0.2</text><text transform="translate(212.86,103.0) scale(0.97,1.1)" font-size="8.6" text-anchor="middle">0.4</text><text transform="translate(232.44,103.0) scale(0.97,1.1)" font-size="8.6" text-anchor="middle">0.6</text><text transform="translate(252.02,103.0) scale(0.97,1.1)" font-size="8.6" text-anchor="middle">0.8</text><text transform="translate(271.60,103.0) scale(0.97,1.1)" font-size="8.6" text-anchor="middle">1.0</text><text x="170.3" y="93.55" font-size="6.1" text-anchor="end">0</text><text x="170.3" y="81.11" font-size="6.1" text-anchor="end">20</text><text x="170.3" y="68.67" font-size="6.1" text-anchor="end">40</text><text x="170.3" y="56.23" font-size="6.1" text-anchor="end">60</text><text x="170.3" y="43.79" font-size="6.1" text-anchor="end">80</text><text x="170.3" y="31.35" font-size="6.1" text-anchor="end">100</text></g></g>
</svg></body></html>
